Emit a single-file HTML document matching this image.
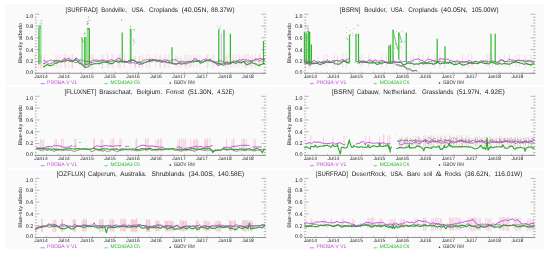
<!DOCTYPE html><html><head><meta charset="utf-8"><style>html,body{margin:0;padding:0;background:#fff;width:550px;height:257px;overflow:hidden}svg{display:block;will-change:transform;filter:blur(0.3px)}text{font-family:"Liberation Sans", sans-serif;text-rendering:geometricPrecision}</style></head><body>
<svg xmlns="http://www.w3.org/2000/svg" width="550" height="257" viewBox="0 0 550 257">
<rect x="5" y="4.1" width="539" height="80.9" fill="#fafafa"/>
<rect x="5" y="87.0" width="539" height="81.3" fill="#fafafa"/>
<rect x="5" y="169.4" width="539" height="80.2" fill="#fafafa"/>
<g transform="translate(0.0,0.0)">
<path d="M35.23 54.17V68.04M38.68 55.65V68.45M40.79 55.43V68.64M41.27 54.62V68.62M44.39 54.54V68.26M56.13 55.2V67.64M58.01 54.86V68.25M60.7 54.36V68.7M64.9 53.9V67.68M65.69 54.74V68.67M68.79 54.74V67.84M71.94 54.31V68.6M72.6 54.42V67.75M85.16 55.03V69.69M88.98 55.8V69.62M91.27 55.01V69.38M92.87 54.38V69.19M101.97 54.94V68.34M102.98 55.12V68.45M107.15 53.7V67.62M108.19 55.16V67.98M111.8 53.75V67.16M113.04 54.06V68.31M117.41 54.69V67.5M119.74 54.23V67.7M120.06 53.9V68.53M124.57 53.7V68.1M130.61 54.56V67.58M134.58 56.29V68.52M135.41 55.53V67.85M139.23 55.95V67.92M140.01 55.75V67.95M142.76 54.88V67.87M146.81 54.67V67.67M149.67 54.58V68.32M155.85 54.26V67.03M159.99 55.11V67.5M160.18 55.09V68.35M164.24 55.23V67.61M166.05 54.11V67.67M168.97 53.78V68.2M175.91 55.31V67.86M177.77 55.89V67.76M180.79 55.65V68.17M184.93 54.58V68.47M186.9 55.01V68.63M189.22 55.15V67.38M191.22 55.52V67.18M193.77 54.36V67.17M196.92 54.72V66.82M199.91 54.9V67.15M207.12 54.85V68.14M207.97 54.43V67M212.1 54.65V68.69M214.06 54.13V67.91M225.76 55.09V68.67M227.96 53.52V68.44M230.82 54.36V67.89M233.34 54.64V67.28M236.08 53.55V67.53M239.18 54.44V67.08M242.03 54.81V67.02M244.73 54.4V68.35M246.23 53.76V67.85M248.09 53.87V66.61M250.77 54.61V67.68M252.45 54.8V67.81M255.56 53.8V67.83M259.19 53.83V67.74M260.24 53.77V66.86" stroke="#f2b8d0" stroke-width="0.65" fill="none" opacity="0.75"/>
<path d="M53.22 54.99h0.6M159.66 61.1h0.6M157.19 62.09h0.6M43.76 61.86h0.6M190.5 63.57h0.6M72.31 60.85h0.6M71.35 60.1h0.6M68.98 58.14h0.6M99.28 60.65h0.6M46.53 61.75h0.6M79.92 58.8h0.6M139.29 62.37h0.6M254.5 59.13h0.6M189.79 65.97h0.6M250.97 59.53h0.6M63.05 58.09h0.6M57.43 63.45h0.6M95.62 60.77h0.6M102.03 64.8h0.6M205.68 61.97h0.6M174.89 58.52h0.6M134.35 59.35h0.6M71.8 60.43h0.6M40.54 62.37h0.6M85.57 61.59h0.6M142.08 60.05h0.6M108.51 60.91h0.6M225.21 58.51h0.6M57.3 63.18h0.6M208.52 64.11h0.6M66.27 60.42h0.6M113.68 62.85h0.6M54.79 59.32h0.6M178.51 51.51h0.6M61.92 62.33h0.6M57.09 60.38h0.6M177.15 58.49h0.6M220.9 61.54h0.6M245.61 58.89h0.6M194.67 59.03h0.6" stroke="#777" stroke-width="0.5" fill="none" opacity="0.7"/>
<path d="M40.1 64.22V25.8M41 63.09V29.19M81.8 65.35V37.1M82.6 65.35V39.92M85.6 65.35V37.1M86 65.35V37.1M87.2 65.35V28.62M88.2 65.35V28.62M130.2 62.52V28.91" stroke="#2cb82c" stroke-width="1.2" fill="none" opacity="0.45"/>
<path d="M38.9 27.49 L40.1 25.8 L41 29.19M81.8 37.1 L83.2 42.75" stroke="#2cb82c" stroke-width="1.1" fill="none" opacity="0.6"/>
<path d="M38.9 64.22V27.49M84.8 65.35V37.1M89.4 64.22V28.62M122.2 62.52V32.58M130.9 62.52V28.91M172 64.22V47.27M218.8 64.22V29.19M224 64.22V29.76M230.4 64.22V33.71M263.5 64.22V41.05M87.2 28.62H89.4M130.2 28.91H130.9" stroke="#2cb82c" stroke-width="1.2" fill="none"/>
<path d="M221.4 62.52V33.14" stroke="#c24ed8" stroke-width="0.9" fill="none" opacity="0.45"/>
<path d="M39.55 25.24h0.7M41.53 20.33h0.7M41.49 22.84h0.7M41.09 25.25h0.7M39.85 23.45h0.7M40.66 21.08h0.7M88.05 23.67h0.7M88.3 16.63h0.7M87.91 18.31h0.7M86.58 24.18h0.7M88.25 21.13h0.7M87.23 24h0.7M89.53 20.76h0.7M88.33 28.34h0.7M121.34 20.48h0.7M121.4 19.6h0.7M130 26.52h0.7M130.06 26.21h0.7M132.96 44.22h0.7M133 40.2h0.7M133.65 29.65h0.7M133.25 39.98h0.7M133.97 30.82h0.7M133.06 29.63h0.7M133.98 42.06h0.7M133.72 41.68h0.7M86.49 21.61h0.7M87.04 21.74h0.7M87.08 23.99h0.7M87.56 23.45h0.7M84.83 33.06h0.7M83.61 34.98h0.7M83.97 33.84h0.7M84.25 33.15h0.7M75.04 58.76h0.7M217.21 26.38h0.7M220.25 26.06h0.7M219.66 28.65h0.7M218.77 27.7h0.7" stroke="#666" stroke-width="0.6" fill="none"/>
<path d="M43 65.97 L44.1 66.7 L45.2 65.9 L46.3 65.04 L47.4 64.51 L48.5 65.44 L49.6 65.55 L50 65.18 L50.7 65.72 L51.8 65.34 L52.9 65.03 L54 63.97 L55.1 62.86 L56.2 63.44 L57.3 62.55 L58.4 62.27 L59.5 61.78 L60.6 61.47 L61.7 62.05 L62.8 61.29 L63 60.97 L63.9 60.56 L65 60.01 L66.1 60.24 L67.2 60.31 L68.3 60.24 L69 60.35 L69.4 60.6 L70.5 61.52 L71.6 61.03 L72.5 61.34 L72.7 61.58 L73.8 60.94 L74.9 59.71 L76 60.49 L76 59.67 L77.1 60.47 L78.2 61.94 L79.3 63.36 L80 63.91 L80.4 63.54 L81.5 64.1 L82.6 65.12 L83.7 66.32 L84.8 67.49 L85 67.04 L85.9 67.44 L87 67.07 L88.1 66.7 L89.2 65.81 L90 65.07 L90.3 64.52 L91.4 64.36 L92.5 64.29 L93.6 64.06 L94 63.79 L94.7 63.64 L95.8 63.56 L96.9 63.76 L98 63.56 L98 63.08 L99.1 64.03 L100.2 62.92 L101.3 63.22 L102.4 61.93 L103.5 62.16 L104.6 62.35 L105 62.12 L105.7 61.85 L106.8 62.64 L107.9 62.28 L109 62.96 L110.1 64.02 L111.2 63.49 L112.3 63.46 L113.4 63.09 L114.5 61.52 L115.6 61.26 L116.7 61.67 L117.8 61.74 L118.9 62.6 L120 61.78 L120 61.68 L121.1 60.75 L122.2 61.5 L123.3 61.28 L124.4 62.14 L125.5 61.97 L126.6 62.56 L127.7 61.86 L128.8 60.79 L129.9 61.17 L130 60.43 L131 59.72 L132.1 59.99 L133.2 60.08 L134.3 60.8 L135.4 61.09 L136.5 62 L137.6 62.61 L138.7 62.98 L139.8 62.77 L140 62.74 L140.9 62.65 L142 63.46 L143.1 63.28 L144.2 62.85 L145.3 62.49 L146.4 62.11 L147.5 61.72 L148.6 61.79 L149.7 60.45 L150 61.59 L150.8 60.95 L151.9 60.82 L153 60.89 L154.1 60.49 L155.2 60.03 L156.3 60.19 L157.4 60.02 L158.5 60.21 L159.6 60.53 L160 61.05 L160.7 61.49 L161.8 62.31 L162.9 61.43 L164 61.61 L165.1 61.77 L166.2 61.99 L167.3 62.76 L168.4 62.49 L169.5 62.97 L170 62.79 L170.6 62.93 L171.7 62.76 L172.8 63.03 L173.9 64.01 L175 63.73 L176.1 64.01 L177.2 63.87 L178.3 63.24 L179.4 63.71 L180 63.49 L180.5 63.89 L181.6 64 L182.7 64.01 L183.8 63.07 L184.9 63.38 L186 63.05 L187.1 63.05 L188.2 62.75 L189.3 62.32 L190 62.54 L190.4 62.19 L191.5 61.83 L192.6 62 L193.7 61.89 L194.8 61.22 L195.9 60.75 L197 61.38 L198.1 61.23 L199.2 61.64 L200 62.61 L200.3 63.14 L201.4 62.95 L202.5 62.55 L203.6 61.86 L204.7 60.99 L205.8 61.08 L206.9 60.43 L208 60.58 L209.1 60.09 L210 59.04 L210.2 59.35 L211.3 60.88 L212.4 61.72 L213.5 62.01 L214.6 62.66 L215.7 62.5 L216.8 63.34 L217.9 63.47 L218 64.28 L219 63.82 L220.1 63.36 L221.2 64.42 L222.3 64.65 L223.4 65.3 L224.5 64.98 L225 64.31 L225.6 62.9 L226.7 63.08 L227.8 62.84 L228.9 64.03 L230 63.69 L231.1 63.36 L232.2 62.3 L233.3 61.89 L234.4 62.64 L235.5 63.2 L236.6 63.23 L237.7 61.95 L238.8 62.16 L239.9 62.66 L240 62.68 L241 63.08 L242.1 62.16 L243.2 61.21 L244.3 62.05 L245.4 63.29 L246.5 64.71 L247.6 64.6 L248.7 63.89 L249.8 63.99 L250 63.03 L250.9 62.87 L252 62.79 L253.1 63.08 L254.2 63.42 L255.3 63.9 L256.4 64.12 L257.5 65.08 L258 65.42 L258.6 65.44 L259.7 64.74 L260.8 64.87 L261.9 64.23 L263 63.51 L264.1 63.59 L265 63.44" stroke="#28a828" stroke-width="1.1" fill="none" stroke-linejoin="round"/>
<path d="M43 63.31 L44.1 63.73 L45.2 63.15 L46.3 62.45 L47.4 62.96 L48.5 63.64 L49.6 64.18 L50 63.72 L50.7 63.23 L51.8 63.2 L52.9 62.63 L54 61.16 L55 61.15 L55.1 60.86 L56.2 60.68 L57.3 60.29 L58.4 60.36 L59.5 60.61 L60.6 61.5 L61.7 60.73 L62.8 60.58 L63 59.52 L63.9 58.5 L65 58.73 L66.1 59.24 L67.2 58.94 L68.3 58.4 L69 58.63 L69.4 58.26 L70.5 59.76 L71.3 60.89 L71.6 61.01 L72.7 60.86 L73.8 60.1 L74.9 58.99 L76 57.79 L76 58.24 L77.1 58.26 L78.2 59.7 L79.3 59.83 L80 61.69 L80.4 62.76 L81.5 64.04 L82.6 64.42 L83.7 65.13 L84 65.6 L84.8 64.75 L85.9 64.84 L87 64.56 L88 63.9 L88.1 64.28 L89.2 63.33 L90.3 63.01 L91.4 61.53 L92 60.58 L92.5 60.05 L93.6 60.08 L94.7 60.29 L95.8 60.03 L96.9 60.09 L98 60.33 L99.1 61.01 L100 60.95 L100.2 60.9 L101.3 59.89 L102.4 60.08 L103.5 60.69 L104.6 61.1 L105.7 61.12 L106.8 60.75 L107.9 60.98 L109 61.04 L110.1 59.91 L111.2 59.77 L112.3 60.15 L113.4 60.26 L114.5 60.6 L115 60.49 L115.6 60.14 L116.7 59.26 L117.8 58.86 L118.9 58.01 L120 58.98 L120 58.87 L121.1 59.53 L122.2 60.64 L123.3 61.57 L124.4 60.94 L125 62.41 L125.5 61.26 L126.6 61.85 L127.7 62.21 L128.8 63.12 L129.9 63.16 L131 62.62 L132.1 63.02 L133.2 62.5 L133.6 62.77 L134.3 62.78 L135.4 63.84 L136.5 63.45 L137.6 63.56 L138.7 64.04 L139.8 64.78 L140.9 63.88 L142 64.55 L143 63.55 L143.1 62.86 L144.2 62.14 L145.3 62.56 L146.4 61.77 L147.5 61.48 L148.6 60.42 L149.7 59.16 L150 59.85 L150.8 58.66 L151.9 59.76 L153 59.01 L154.1 59.98 L155.2 59.95 L156 61.24 L156.3 61.61 L157.4 61.51 L158.5 61.49 L159.6 61.39 L160.7 61.67 L161 61.56 L161.8 60.98 L162.9 61.38 L164 61.81 L165.1 61.96 L166.2 61.38 L167.3 60.29 L168 60.53 L168.4 60.78 L169.5 61.58 L170.6 62.7 L171.7 63.42 L172.8 63.49 L173 63.82 L173.9 63.94 L175 63.72 L176.1 64.12 L177.2 63.79 L178.3 63.14 L179.4 62.35 L180.5 62.19 L181.6 62.8 L182.7 62.81 L183.8 63.5 L184.9 63.51 L186 64.5 L187.1 63.29 L188 63.02 L188.2 62.3 L189.3 62.05 L190.4 61.68 L191.5 61.47 L192.6 60.73 L193.7 59.12 L194 58.5 L194.8 58.83 L195.9 58.92 L197 59.46 L198.1 60.82 L199.2 60.63 L200.3 61.46 L201.4 61.11 L202.5 59.93 L203.6 59.35 L204.7 59.66 L205.8 58.6 L206.9 59.89 L208 60.54 L208 60.52 L209.1 60.86 L210.2 60.9 L211.3 61.08 L212.4 61.36 L213.5 61.81 L214.6 62.33 L215.7 63.58 L216 64.31 L216.8 64.66 L217.9 65.75 L219 65.57 L219 64.61 L220.1 64.81 L221.2 64.03 L222.3 63.26 L223.4 63.17 L224.5 63.04 L225 63.32 L225.6 63.89 L226.7 64.14 L227.8 64.15 L228.9 63.73 L230 62.55 L231.1 62.26 L232.2 62.59 L233.3 62.37 L234.4 62.64 L235 61.61 L235.5 61.63 L236.6 60.83 L237.7 60.47 L238.8 60.14 L239.9 59.51 L241 60.52 L242.1 59.8 L243.2 58.98 L243.7 59.52 L244.3 60.04 L245.4 59.78 L246.5 60.11 L247.6 60.28 L248.7 59.82 L249.8 61.33 L250 61.87 L250.9 61.17 L252 61.24 L253.1 61.07 L254.2 60.7 L255.3 59.93 L256.4 60.06 L257.5 59.25 L258.6 59.03 L259.6 58.28 L259.7 59 L260.8 58.46 L261.9 59.04 L263 59.3 L264.1 59.66 L265 59.25" stroke="#c24ed8" stroke-width="1.0" fill="none" stroke-linejoin="round"/>
<path d="M43 60.74 L44.1 60.78 L45.2 61.09 L46.3 61.21 L47.4 60.98 L48.5 61.22 L49.6 60.46 L50.7 60.12 L51.8 60.37 L52.9 60.45 L54 60.9 L55.1 60.59 L56.2 60.84 L57.3 61.27 L58.4 61.41 L59.5 61.04 L60.6 61.34 L61.7 61.55 L62.8 61.35 L63.9 61.82 L65 61.82 L66.1 60.91 L67.2 60.84 L68.3 60.13 L69.4 60.72 L70.5 60.35 L71.6 60.28 L72.7 61.27 L73.8 61.5 L74.9 62.59 L76 62.63 L77.1 62.5 L78.2 61.58 L79.3 60.54 L80 59.87 L80.4 60.1 L81.5 59.85 L82.6 60.44 L83.7 60.74 L84.8 60.92 L85.9 61.94 L87 61.23 L88.1 61.6 L89.2 61.93 L90 61.77 L90.3 61.65 L91.4 62.64 L92.5 62.61 L93.6 62.18 L94.7 60.81 L95.8 61.45 L96.9 61.57 L98 61.29 L99.1 61.49 L100.2 61.17 L101.3 60.67 L102.4 60.91 L103.5 60.04 L104.6 60.23 L105.7 61.29 L106.8 61.61 L107.9 61.13 L109 61.88 L110.1 62.02 L111.2 61.71 L112.3 61.11 L113.4 60.75 L114.5 61.47 L115.6 61.13 L116.7 60.89 L117.8 60.42 L118.9 60.95 L120 61.29 L121.1 61.66 L122.2 62.55 L123.3 62.08 L124.4 61.44 L125.5 61.2 L126.6 61.6 L127.7 61.9 L128.8 60.58 L129.9 60.33 L131 60.46 L132.1 60.15 L133.2 60.43 L134.3 60.99 L135.4 61.36 L136.5 62.11 L137.6 62.13 L138.7 61.76 L139.8 61.62 L140.9 62.23 L142 61.2 L143.1 60.62 L144.2 59.91 L145.3 60.34 L146.4 59.62 L147.5 59.74 L148.6 59.99 L149.7 60.81 L150 60.27 L150.8 61.21 L151.9 60.04 L153 59.3 L154.1 59.74 L155.2 60.31 L156.3 60.65 L157.4 60.51 L158.5 61 L159.6 60.17 L160.7 60.3 L161.8 60.22 L162.9 60.48 L164 59.86 L165.1 59.81 L166.2 60.51 L167.3 60.11 L168.4 61.08 L169.5 60.93 L170.6 60.73 L171.7 60.18 L172.8 59.52 L173.9 59.9 L175 59.93 L176.1 60.02 L177.2 60.82 L178.3 61.4 L179.4 61.56 L180.5 61.46 L181.6 60.99 L182.7 61.37 L183.8 61.4 L184.9 61.88 L186 61.82 L187.1 61.23 L188.2 61.72 L189.3 61.07 L190.4 61.57 L191.5 61.31 L192.6 60.83 L193.7 60.92 L194.8 61.33 L195.9 61.43 L197 60.84 L198.1 60.43 L199.2 60.46 L200 61.12 L200.3 61.54 L201.4 61.5 L202.5 61.48 L203.6 61.43 L204.7 60.74 L205.8 60.17 L206.9 60.4 L208 60.36 L209.1 60.72 L210.2 60.39 L211.3 61.49 L212.4 61.44 L213.5 61.15 L214.6 61.63 L215.7 61.83 L216.8 61.88 L217.9 61.56 L219 60.95 L220 60.45 L220.1 60.74 L221.2 60.86 L222.3 61.55 L223.4 61.6 L224.5 62.63 L225.6 62.16 L226.7 61.88 L227.8 61.65 L228.9 62.98 L230 62.45 L231.1 62.12 L232.2 61.71 L233.3 60.96 L234.4 61.1 L235.5 61.29 L236.6 61.42 L237.7 61.18 L238.8 61.28 L239.9 61.38 L241 62.38 L242.1 62.61 L243.2 62.19 L244.3 61.7 L245.4 61.44 L246.5 61.59 L247.6 62.39 L248.7 61.64 L249.8 60.99 L250.9 60.83 L252 60.72 L253.1 60.51 L254.2 59.41 L255.3 59.2 L256.4 58.7 L257.5 59.43 L258.6 61.24 L259.7 60.86 L260.8 60.3 L261.9 59.29 L263 59.27 L264.1 59.61 L265 60.41" stroke="#666" stroke-width="0.7" fill="none" stroke-linejoin="round"/>
<line x1="34.9" y1="73.3" x2="265.5" y2="73.3" stroke="#888" stroke-width="0.9"/>
<path d="M35.0 73.3v-1.6M46.5 73.3v-1.6M58.0 73.3v-1.6M69.5 73.3v-1.6M81.0 73.3v-1.6M92.5 73.3v-1.6M104.0 73.3v-1.6M115.5 73.3v-1.6M127.0 73.3v-1.6M138.5 73.3v-1.6M150.0 73.3v-1.6M161.5 73.3v-1.6M173.0 73.3v-1.6M184.5 73.3v-1.6M196.0 73.3v-1.6M207.5 73.3v-1.6M219.0 73.3v-1.6M230.5 73.3v-1.6M242.0 73.3v-1.6M253.5 73.3v-1.6M265.0 73.3v-1.6" stroke="#999" stroke-width="0.5" fill="none"/>
<path d="M34.9 73.30h4.5M266.2 73.30h-4.9M34.9 70.34h2.0M266.2 70.34h-2.4M34.9 67.39h2.0M266.2 67.39h-2.4M34.9 64.44h2.0M266.2 64.44h-2.4M34.9 61.48h4.5M266.2 61.48h-4.9M34.9 58.52h2.0M266.2 58.52h-2.4M34.9 55.57h2.0M266.2 55.57h-2.4M34.9 52.61h2.0M266.2 52.61h-2.4M34.9 49.66h4.5M266.2 49.66h-4.9M34.9 46.70h2.0M266.2 46.70h-2.4M34.9 43.75h2.0M266.2 43.75h-2.4M34.9 40.79h2.0M266.2 40.79h-2.4M34.9 37.84h4.5M266.2 37.84h-4.9M34.9 34.88h2.0M266.2 34.88h-2.4M34.9 31.93h2.0M266.2 31.93h-2.4M34.9 28.97h2.0M266.2 28.97h-2.4M34.9 26.02h4.5M266.2 26.02h-4.9M34.9 23.06h2.0M266.2 23.06h-2.4M34.9 20.11h2.0M266.2 20.11h-2.4M34.9 17.15h2.0M266.2 17.15h-2.4M34.9 14.20h4.5M266.2 14.20h-4.9" stroke="#8a8a8a" stroke-width="0.6" fill="none"/>
<text x="33.2" y="73.70" font-size="5.4" text-anchor="end" fill="#1a1a1a">0.0</text>
<text x="33.2" y="63.40" font-size="5.4" text-anchor="end" fill="#1a1a1a">0.2</text>
<text x="33.2" y="51.90" font-size="5.4" text-anchor="end" fill="#1a1a1a">0.4</text>
<text x="33.2" y="39.80" font-size="5.4" text-anchor="end" fill="#1a1a1a">0.6</text>
<text x="33.2" y="28.30" font-size="5.4" text-anchor="end" fill="#1a1a1a">0.8</text>
<text x="33.2" y="17.50" font-size="5.4" text-anchor="end" fill="#1a1a1a">1.0</text>
<text transform="translate(21.6,43.2) rotate(-90)" font-size="5.3" text-anchor="middle" fill="#2a2a2a" textLength="40.6" lengthAdjust="spacingAndGlyphs">Blue-sky albedo</text>
<text x="41.0" y="77.75" font-size="4.9" text-anchor="middle" fill="#222">Jan14</text>
<text x="64.0" y="77.75" font-size="4.9" text-anchor="middle" fill="#222">Jul14</text>
<text x="87.0" y="77.75" font-size="4.9" text-anchor="middle" fill="#222">Jan15</text>
<text x="110.0" y="77.75" font-size="4.9" text-anchor="middle" fill="#222">Jul15</text>
<text x="133.0" y="77.75" font-size="4.9" text-anchor="middle" fill="#222">Jan16</text>
<text x="156.0" y="77.75" font-size="4.9" text-anchor="middle" fill="#222">Jul16</text>
<text x="179.0" y="77.75" font-size="4.9" text-anchor="middle" fill="#222">Jan17</text>
<text x="202.0" y="77.75" font-size="4.9" text-anchor="middle" fill="#222">Jul17</text>
<text x="225.0" y="77.75" font-size="4.9" text-anchor="middle" fill="#222">Jan18</text>
<text x="248.0" y="77.75" font-size="4.9" text-anchor="middle" fill="#222">Jul18</text>
<text x="65.6" y="12.25" font-size="6.7" fill="#222" textLength="32.0" lengthAdjust="spacingAndGlyphs">[SURFRAD]</text>
<text x="101.2" y="12.25" font-size="6.7" fill="#222" textLength="25.6" lengthAdjust="spacingAndGlyphs">Bondville,</text>
<text x="131.8" y="12.25" font-size="6.7" fill="#222" textLength="13.0" lengthAdjust="spacingAndGlyphs">USA.</text>
<text x="149.0" y="12.25" font-size="6.7" fill="#222" textLength="28.9" lengthAdjust="spacingAndGlyphs">Croplands</text>
<text x="181.6" y="12.25" font-size="6.7" fill="#222" textLength="26.8" lengthAdjust="spacingAndGlyphs">(40.05N,</text>
<text x="211.1" y="12.25" font-size="6.7" fill="#222" textLength="23.4" lengthAdjust="spacingAndGlyphs">88.37W)</text>
<path d="M40.7 83.6h4" stroke="#c24ed8" stroke-width="0.7"/>
<text x="47.1" y="83.6" font-size="5.2" fill="#c24ed8" textLength="30" lengthAdjust="spacingAndGlyphs">PROBA-V V1</text>
<path d="M104.5 83.6h3" stroke="#2cb82c" stroke-width="0.7"/>
<text x="110.5" y="83.6" font-size="5.2" fill="#1fb81f" textLength="29.5" lengthAdjust="spacingAndGlyphs">MCD43A3 C6</text>
<circle cx="170.2" cy="83.0" r="0.8" fill="#333"/>
<text x="173.7" y="83.7" font-size="5.2" fill="#333" textLength="21" lengthAdjust="spacingAndGlyphs">GBOV RM</text>
</g>
<g transform="translate(269.3,0.0)">
<path d="M36.31 55.37V68.95M40.46 55.23V69.07M48.75 55.86V67.01M54.63 54.76V66.55M57.73 54.52V66.96M64.85 53.55V68.15M68.26 55.08V67.53M73.3 53.68V68.29M76.93 53.61V67.58M90.78 55.69V66.66M92.81 54.26V67.63M99.4 54.7V67.17M112.58 54.26V67.93M117.19 53.71V67.55M124.15 54.51V67.68M141.36 54.91V66.82M144.4 55.7V67.63M149.83 54.21V67.85M153.54 54.09V67.35M159.06 54.9V66.48M165.86 54.82V68.39M170.56 55.15V68.93M175.5 54.46V68.19M193.1 54.44V68.62M198.75 54.32V68.03M202.53 53.56V67.33M217.76 54.41V66.64M220.18 53.64V67.84M223.05 54.92V66.57M230.31 55.19V66.52M234.93 54.5V66.92M240.22 54.48V67.35M246.7 55.05V66.83M249.72 54.36V67.16M255.9 54.74V68.55M261.83 55.21V67.18" stroke="#f2b8d0" stroke-width="0.65" fill="none" opacity="0.75"/>
<path d="M164.93 61.55h0.6M50.66 63.22h0.6M140.59 62.96h0.6M242.86 65.83h0.6M217.77 60.71h0.6M259.65 55.52h0.6M55.72 60.14h0.6M178.15 60.39h0.6M138.27 58.22h0.6M224.7 62.15h0.6M217.47 61.77h0.6M259.16 61.94h0.6M238.14 58.31h0.6M199.42 62.55h0.6M161.65 61.52h0.6M60.16 60.4h0.6M243.67 62.91h0.6M82.95 59.7h0.6M142.62 59.27h0.6M62.94 58.39h0.6M252.16 55.4h0.6M182.74 57.17h0.6M195.69 59.05h0.6M143.62 61.64h0.6M179.46 61.16h0.6M240.13 58.15h0.6M71.08 60.51h0.6M166.26 62.54h0.6M198.71 66.26h0.6M258.75 60.94h0.6M95.42 57.59h0.6M103.65 59.64h0.6M253.94 59.39h0.6M154.61 62.76h0.6M148.94 58.83h0.6M204.75 59.92h0.6M61.59 57.05h0.6M51.05 63.38h0.6M256.49 59.98h0.6M216.74 55.96h0.6" stroke="#777" stroke-width="0.5" fill="none" opacity="0.7"/>
<path d="M36.3 63.09V32.58" stroke="#2cb82c" stroke-width="1.2" fill="none" opacity="0.45"/>
<path d="M123.7 29.76 L125.2 37.1 L128.6 49.53M129.5 32.58 L130.3 34.84 L132.8 42.75M37.5 33.14 L38.5 30.89 L39.4 30.89" stroke="#2cb82c" stroke-width="1.1" fill="none" opacity="0.6"/>
<path d="M35.1 63.09V32.02M37.5 63.09V33.14M39.4 64.22V30.89M40.4 64.22V32.02M42.1 64.22V44.45M80.2 62.52V34.84M86.7 62.52V33.71M89.2 62.52V33.71M119.5 62.52V45.58M121.2 62.52V44.45M123.7 62.52V29.76M129.5 59.7V32.58M137 62.52V32.58M167.9 62.52V38.8M175.7 62.52V46.14M221.7 62.52V33.71M225.9 62.52V33.71" stroke="#2cb82c" stroke-width="1.2" fill="none"/>
<path d="M38.7 28.64h0.7M38.06 28.84h0.7M35.95 25.69h0.7M35.84 25.97h0.7M36.64 27.29h0.7M38.64 28.81h0.7M81.02 34.51h0.7M76.86 32.7h0.7M76.72 27.74h0.7M83.22 35.61h0.7M88.6 34.66h0.7M84.07 28.74h0.7M77.98 39.75h0.7M87.39 25.33h0.7M76.55 37.58h0.7M80.49 30.81h0.7M88.83 25.23h0.7M88.82 36.18h0.7M82.98 33.28h0.7M77.47 38.93h0.7M126.19 43.73h0.7M125.14 48.07h0.7M124.58 38.2h0.7M130.41 46.13h0.7M130.84 42.35h0.7M132.57 31.73h0.7M128.59 37.74h0.7M126.85 31.58h0.7M132.03 47.91h0.7M127.34 47.9h0.7M126.33 44.81h0.7M134.7 41.67h0.7" stroke="#666" stroke-width="0.6" fill="none"/>
<path d="M35 62.1 L36.1 63.05 L37.2 63.43 L38.3 63.8 L39.4 62.56 L40.5 62.03 L41.6 62.77 L42.5 63.15 L42.7 64.07 L43.8 63.28 L44.9 63.64 L46 63.55 L47.1 63.56 L48.2 63.4 L49.3 63.83 L50 64.14 L50.4 64.47 L51.5 64.7 L52.6 63.83 L53.7 62.86 L54.8 63.42 L55.9 62.22 L57 61.71 L58.1 62.18 L59.2 62.24 L60 62.76 L60.3 62.03 L61.4 62.43 L62.5 62.42 L63.6 62.37 L64.7 62.95 L65.8 63.73 L66.9 63.94 L68 63.81 L69.1 64.18 L70 64.06 L70.2 64.22 L71.3 63.33 L72.4 62.03 L73.5 61.63 L74.6 60.51 L75.7 61.56 L76.8 61.98 L77.9 62.8 L79 62.49 L80 63.67M88 61.41 L89.1 61.86 L90.2 62.69 L91.3 61.7 L92.4 61.99 L93.5 61.17 L94.6 61.06 L95.7 61.57 L96.8 62.11 L97.9 62.4 L99 62.81 L100 63.01 L100.1 63.19 L101.2 62.79 L102.3 62.86 L103.4 62.64 L104.5 62.99 L105.6 62.87 L106.7 63.76 L107.8 64.42 L108.9 64.28 L110 63.65 L110 62.7 L111.1 63.05 L112.2 63.82 L113.3 62.93 L114.4 62.75 L115.5 61.92 L116.6 62.52 L117.7 62.8 L118.8 63.21 L119.9 63.13 L121 63.5 L122.1 63.04 L123.2 63.02 L124 62.28 L124.3 62.21 L125.4 61.88 L126.5 61.97 L127.6 62.45 L128.7 62.51 L129.8 62.57 L130 62.56 L130.9 62.14 L132 62.74 L133.1 64.11 L134.2 64.48 L135.3 64.98 L136.4 64.04 L137.5 63.61 L138.6 63.02 L139.7 63.08 L140 62.94 L140.8 63.15 L141.9 63.15 L143 63.43 L144.1 64.02 L145.2 64.53 L146.3 63.89 L147.4 63.72 L148.5 64.12 L149.6 63.75 L150 63.93 L150.7 63.64 L151.8 63.12 L152.9 62.84 L154 63.89 L155.1 63.7 L156.2 62.86 L157.3 63.7 L158.4 63.09 L159.5 63.12 L160.6 63.5 L161.7 63.61 L162.8 63.22 L163.9 64.58 L165 64.01 L165 63.67 L166.1 63.15 L167.2 63.1 L168.3 61.77 L169.4 62.73 L170.5 63.73 L171.6 63.76 L172.7 63.31 L173.8 62.97 L174.9 63.4 L175 62.83 L176 62.82 L177.1 63.13 L178.2 62.81 L179.3 63.35 L180.4 61.83 L181.5 63.24 L182.6 63.57 L183.7 63.97 L184.8 64.79 L185 64.91 L185.9 64.15 L187 64.38 L188.1 63.97 L189.2 63.8 L190.3 62.77 L191.4 64.03 L192.5 64.73 L193.6 64.9 L194.7 65.22 L195.8 64.59 L196.9 64.28 L198 63.94 L199.1 63.25 L200 63.54 L200.2 63.01 L201.3 62.78 L202.4 63.46 L203.5 63.65 L204.6 63.43 L205.7 63.03 L206.8 63.53 L207.9 63.57 L209 63.68 L210.1 62.71 L211.2 62.24 L212.3 62.24 L213.4 62.94 L214.5 63.07 L215 63.7 L215.6 63.35 L216.7 63.31 L217.8 63.66 L218.9 63.83 L220 63.71 L221.1 62.52 L222.2 62.41 L223.3 62.81 L224.4 62.84 L225 62.54 L225.5 63.3 L226.6 64.19 L227.7 63.75 L228.8 64.25 L229.9 63.54 L231 63.35 L232.1 64.32 L233.2 63.97 L234.3 63.59 L235.4 63.32 L236.5 64.02 L237.6 63.92 L238.7 63.92 L239.8 64.39 L240 64.37 L240.9 63.69 L242 63.53 L243.1 62.72 L244.2 62.5 L245.3 62.57 L246.4 61.41 L247.5 62.38 L248.6 62.25 L249.7 62.38 L250 62.78 L250.8 63.2 L251.9 63.31 L253 63.42 L254.1 64.26 L255.2 64 L256.3 64 L257.4 63.54 L258 63.61 L258.5 64.38 L259.6 64.36 L260.7 64.34 L261.8 65.2 L262 64.2 L262.9 64.03 L264 64.14 L265 63.13" stroke="#28a828" stroke-width="1.1" fill="none" stroke-linejoin="round"/>
<path d="M35 60.7 L36.1 60.42 L37.2 61.23 L38 61.28 L38.3 62.81 L39.4 64.56 L40.5 66.03 L40.5 65.93 L41.6 64 L42.5 61.56 L42.7 61.65 L43.8 60.99 L44.9 60.23 L46 61.27 L47.1 61.55 L48.2 62 L49.3 62.38 L50 62.18 L50.4 62.27 L51.5 62.6 L52.6 61.89 L53.7 61.48 L54.8 61.09 L55.9 61.56 L57 61.17 L58 60.36 L58.1 59.77 L59.2 61.36 L60 62.26 L60.3 61.8 L61.4 62.94 L62.5 61.98 L63.6 62.23 L64.7 61.97 L65.8 61.08 L66.9 60.61 L68 60.38 L69.1 60.91 L70 61.01 L70.2 61.16 L71.3 60.24 L72.4 59.97 L73.5 59.83 L74.6 59.8 L75.7 60.74 L76 60.18 L76.8 60.34 L77.9 59.79 L78 59.24 L79 58.96 L80 59.09M88 61.46 L89.1 61.35 L90.2 60.51 L91.3 61.16 L92.4 61.25 L93.5 62.68 L94.6 61.76 L95.7 62.58 L96.8 61.48 L97.9 61.35 L99 60.61 L100 59.78 L100.1 59.94 L101.2 59.86 L102.3 60.93 L103.4 61.08 L104.5 61.04 L105.6 59.72 L106.7 60.71 L107.8 60.51 L108.9 61.66 L110 61.49 L110 61.19 L111.1 60.07 L112.2 60.68 L113.3 60.84 L114.4 60.77 L115 61.49 L115.5 61.49 L116.6 61.94 L117.7 62.69 L118.8 61.77 L119 61.99 L119.9 61.77 L121 62.13 L122.1 61.45 L123.2 61.42 L124 61.37 L124.3 61.33 L125.4 61.27 L126.5 62.32 L127.6 62.18 L128.7 61.9 L129.8 62.34 L130 61.25 L130.9 60.83 L132 61.24 L133.1 61.97 L134.2 61.39 L135.3 61.6 L136.4 61.33 L137.5 62.26 L138.6 61.87 L139.7 61.64 L140 61.92 L140.8 61.96 L141.9 61.22 L143 60.81 L144.1 60.23 L145.2 59.77 L146.3 59.41 L147.4 59.18 L148.5 59.03 L149.6 58.86 L150 59.22 L150.7 60.03 L151.8 60.22 L152.9 60.44 L154 61.13 L155.1 61.69 L156.2 61.46 L157.3 59.87 L158.4 59.13 L159.5 59.04 L160 59.59 L160.6 59.32 L161.7 59.82 L162.8 60.49 L163.9 60.36 L165 60.95 L166.1 60.43 L167.2 61.77 L168.3 61.24 L169.4 60.6 L170 59.9 L170.5 58.58 L171.6 58.99 L172.7 58.74 L173.8 59.14 L174.9 59.58 L176 60.1 L177.1 59.2 L178.2 59.17 L179.3 59.37 L180 60 L180.4 60.61 L181.5 60.14 L182.6 61.08 L183.7 61.3 L184.8 61.65 L185.9 61.4 L187 61.25 L188.1 60.63 L189.2 61.03 L190 61.54 L190.3 61.73 L191.4 61.33 L192.5 61.74 L193.6 62.27 L194.7 61.83 L195.8 61.8 L196.9 61.72 L198 61.46 L199.1 61.37 L200 60.11 L200.2 60.73 L201.3 61.1 L202.4 62.23 L203.5 62.67 L204.6 61.88 L205.7 61.43 L206.8 61.44 L207.9 61.48 L209 62.36 L210 61.85 L210.1 61.55 L211.2 60.91 L212.3 60.86 L213.4 61.37 L214.5 61.52 L215 62.03 L215.6 61.48 L216.7 60.49 L217.8 61.65 L218.9 61.99 L219 62.19M227 62.17 L228.1 62.28 L229.2 61.49 L230.3 61.36 L231.4 59.83 L232.5 60.61 L233.6 60.34 L234.7 61.16 L235 62.11 L235.8 61.82 L236.9 61.73 L238 60.9 L239.1 59.87 L240 59.59 L240.2 59.48 L241.3 59.68 L242.4 60.02 L243.5 60.11 L244.6 60.44 L245.7 61.02 L246.8 60.89 L247.9 60.59 L249 59.77 L250 60.58 L250.1 60.26 L251.2 60.67 L252.3 60.32 L253.4 60.55 L254.5 60.56 L255.6 61.24 L256.7 60.82 L257.8 61.3 L258 60.62 L258.9 61.39 L260 60.47 L261.1 60.8 L262.2 61.94 L263.3 62.24 L264.4 62.6 L265 61.87" stroke="#c24ed8" stroke-width="1.0" fill="none" stroke-linejoin="round"/>
<path d="M35 63.11 L36.1 62.65 L37.2 61.77 L38.3 61.93 L39.4 61.74 L40.5 62.29 L41.6 62.7 L42.7 63 L43.8 62.98 L44.9 62.58 L46 62.08 L47.1 62.41 L48.2 62.66 L49.3 61.78 L50.4 61.65 L51.5 62.44 L52.6 62.71 L53.7 62.46 L54.8 63.02 L55.9 62.68 L57 62.35 L58.1 62.04 L59.2 61.68 L60.3 61.31 L61.4 61.62 L62.5 61.21 L63.6 60.19 L64.7 60.84 L65.8 60.64 L66.9 60.52 L68 60.97 L69.1 60.83 L70.2 61.67 L71.3 61.87 L72.4 62.81 L73.5 61.36 L74.6 61.19 L75.7 61.7 L76.8 61.62 L77.9 62.04 L79 61.75 L80 61.21M88 63.35 L89.1 62.76 L90.2 63 L91.3 61.91 L92.4 62.16 L93.5 61.93 L94.6 62.66 L95.7 62.27 L96.8 62.67 L97.9 62.63 L99 62.34 L100.1 61.9 L101.2 60.71 L102.3 61.08 L103.4 61.69 L104.5 61.43 L105.6 62.59 L106.7 62.29 L107.8 62.55 L108.9 62.46 L110 62.24 L111.1 61.97 L112.2 62.02 L113.3 61.48 L114.4 62.03 L115.5 62.06 L116.6 62.53 L117.7 62.54 L118.8 62.73 L119.9 62.58 L121 63.36 L122.1 63.02 L123.2 63.42 L124 63.08M125 62.61 L126.1 63.83 L127.2 65.03 L128.3 65.62 L129.4 65.58 L130.5 66.14 L131.6 65.83 L132.7 65.28 L133.8 65.97 L134.9 66.24 L135 66.98 L136 67.27 L137.1 67.78 L138.2 68.11 L139.3 68.41 L140.4 68.29 L141.5 69.46 L142.6 70.86 L143.7 71.27 L144.8 70.83 L145.9 70.45 L147 71.03 L148 71.22M127 64.28 L128.1 64.75 L129.2 64.52 L130.3 64.92 L131.4 65.96 L132.5 66.71 L133.6 65.72 L134.7 66.73 L135.8 67.21 L136.9 68.09 L137 69.22 L138 69.7 L139.1 69.89 L140.2 69.51 L141.3 70.06 L142.4 70.42 L143.5 70.79 L144.6 70.83 L145.7 70.51 L146.8 70.32 L147.9 70.63 L148 70.61M150 61.39 L151.1 62.73 L152.2 63.37 L153.3 62.51 L154.4 62.28 L155.5 62.52 L156.6 62.65 L157.7 62.66 L158.8 62.37 L159.9 61.44 L161 62.03 L162.1 61.56 L163.2 60.85 L164.3 60.94 L165.4 61.79 L166.5 62.03 L167.6 62.15 L168.7 61.7 L169.8 61.56 L170.9 61.18 L172 61.96 L173.1 61.85 L174.2 61.6 L175.3 62.2 L176.4 62.12 L177.5 62.72 L178.6 62.02 L179.7 62.45 L180.8 62.15 L181.9 62.49 L183 62.27 L184.1 61.34 L185.2 61.99 L186.3 62.31 L187.4 61.83 L188.5 61.84 L189.6 62.38 L190.7 62.38 L191.8 61.99 L192.9 61.97 L194 61.89 L195.1 62.21 L196.2 62.37 L197.3 62.19 L198.4 62.56 L199.5 62.63 L200.6 62.59 L201.7 62.47 L202.8 62.26 L203.9 62.06 L205 61.55 L206.1 61.49 L207.2 61.55 L208.3 62.09 L209.4 62.84 L210.5 62.21 L211.6 62.47 L212.7 61.11 L213.8 61.17 L214.9 60.73 L216 61.22 L217.1 62.27 L218.2 61.8 L219.3 61.51 L220.4 61.57 L221.5 61.05 L222.6 61.3 L223.7 61.12 L224.8 61.63 L225.9 61.38 L227 61.94 L228.1 62.25 L229.2 62.48 L230.3 60.86 L231.4 59.71 L232.5 59.81 L233.6 60.14 L234.7 61.1 L235.8 61.5 L236.9 61.64 L238 61.8 L239.1 61.86 L240.2 61.2 L241.3 61.41 L242.4 61.56 L243.5 61.35 L244.6 61.71 L245.7 61.11 L246.8 60.93 L247.9 60.52 L249 60.17 L250.1 60.44 L251.2 60.99 L252.3 60.52 L253.4 61.16 L254.5 61.68 L255.6 62.34 L256.7 62 L257.8 61.19 L258.9 60.82 L260 61.05 L261.1 61.02 L262.2 61.35 L263.3 61.26 L264.4 60.93 L265 61.32" stroke="#666" stroke-width="0.7" fill="none" stroke-linejoin="round"/>
<line x1="34.9" y1="73.3" x2="265.5" y2="73.3" stroke="#888" stroke-width="0.9"/>
<path d="M35.0 73.3v-1.6M46.5 73.3v-1.6M58.0 73.3v-1.6M69.5 73.3v-1.6M81.0 73.3v-1.6M92.5 73.3v-1.6M104.0 73.3v-1.6M115.5 73.3v-1.6M127.0 73.3v-1.6M138.5 73.3v-1.6M150.0 73.3v-1.6M161.5 73.3v-1.6M173.0 73.3v-1.6M184.5 73.3v-1.6M196.0 73.3v-1.6M207.5 73.3v-1.6M219.0 73.3v-1.6M230.5 73.3v-1.6M242.0 73.3v-1.6M253.5 73.3v-1.6M265.0 73.3v-1.6" stroke="#999" stroke-width="0.5" fill="none"/>
<path d="M34.9 73.30h4.5M266.2 73.30h-4.9M34.9 70.34h2.0M266.2 70.34h-2.4M34.9 67.39h2.0M266.2 67.39h-2.4M34.9 64.44h2.0M266.2 64.44h-2.4M34.9 61.48h4.5M266.2 61.48h-4.9M34.9 58.52h2.0M266.2 58.52h-2.4M34.9 55.57h2.0M266.2 55.57h-2.4M34.9 52.61h2.0M266.2 52.61h-2.4M34.9 49.66h4.5M266.2 49.66h-4.9M34.9 46.70h2.0M266.2 46.70h-2.4M34.9 43.75h2.0M266.2 43.75h-2.4M34.9 40.79h2.0M266.2 40.79h-2.4M34.9 37.84h4.5M266.2 37.84h-4.9M34.9 34.88h2.0M266.2 34.88h-2.4M34.9 31.93h2.0M266.2 31.93h-2.4M34.9 28.97h2.0M266.2 28.97h-2.4M34.9 26.02h4.5M266.2 26.02h-4.9M34.9 23.06h2.0M266.2 23.06h-2.4M34.9 20.11h2.0M266.2 20.11h-2.4M34.9 17.15h2.0M266.2 17.15h-2.4M34.9 14.20h4.5M266.2 14.20h-4.9" stroke="#8a8a8a" stroke-width="0.6" fill="none"/>
<text x="33.2" y="73.70" font-size="5.4" text-anchor="end" fill="#1a1a1a">0.0</text>
<text x="33.2" y="63.40" font-size="5.4" text-anchor="end" fill="#1a1a1a">0.2</text>
<text x="33.2" y="51.90" font-size="5.4" text-anchor="end" fill="#1a1a1a">0.4</text>
<text x="33.2" y="39.80" font-size="5.4" text-anchor="end" fill="#1a1a1a">0.6</text>
<text x="33.2" y="28.30" font-size="5.4" text-anchor="end" fill="#1a1a1a">0.8</text>
<text x="33.2" y="17.50" font-size="5.4" text-anchor="end" fill="#1a1a1a">1.0</text>
<text transform="translate(21.6,43.2) rotate(-90)" font-size="5.3" text-anchor="middle" fill="#2a2a2a" textLength="40.6" lengthAdjust="spacingAndGlyphs">Blue-sky albedo</text>
<text x="41.0" y="77.75" font-size="4.9" text-anchor="middle" fill="#222">Jan14</text>
<text x="64.0" y="77.75" font-size="4.9" text-anchor="middle" fill="#222">Jul14</text>
<text x="87.0" y="77.75" font-size="4.9" text-anchor="middle" fill="#222">Jan15</text>
<text x="110.0" y="77.75" font-size="4.9" text-anchor="middle" fill="#222">Jul15</text>
<text x="133.0" y="77.75" font-size="4.9" text-anchor="middle" fill="#222">Jan16</text>
<text x="156.0" y="77.75" font-size="4.9" text-anchor="middle" fill="#222">Jul16</text>
<text x="179.0" y="77.75" font-size="4.9" text-anchor="middle" fill="#222">Jan17</text>
<text x="202.0" y="77.75" font-size="4.9" text-anchor="middle" fill="#222">Jul17</text>
<text x="225.0" y="77.75" font-size="4.9" text-anchor="middle" fill="#222">Jan18</text>
<text x="248.0" y="77.75" font-size="4.9" text-anchor="middle" fill="#222">Jul18</text>
<text x="70.5" y="12.25" font-size="6.7" fill="#222" textLength="20.6" lengthAdjust="spacingAndGlyphs">[BSRN]</text>
<text x="94.9" y="12.25" font-size="6.7" fill="#222" textLength="22.9" lengthAdjust="spacingAndGlyphs">Boulder,</text>
<text x="121.7" y="12.25" font-size="6.7" fill="#222" textLength="13.0" lengthAdjust="spacingAndGlyphs">USA.</text>
<text x="139.0" y="12.25" font-size="6.7" fill="#222" textLength="29.4" lengthAdjust="spacingAndGlyphs">Croplands</text>
<text x="171.7" y="12.25" font-size="6.7" fill="#222" textLength="26.7" lengthAdjust="spacingAndGlyphs">(40.05N,</text>
<text x="202.1" y="12.25" font-size="6.7" fill="#222" textLength="27.2" lengthAdjust="spacingAndGlyphs">105.00W)</text>
<path d="M40.7 83.6h4" stroke="#c24ed8" stroke-width="0.7"/>
<text x="47.1" y="83.6" font-size="5.2" fill="#c24ed8" textLength="30" lengthAdjust="spacingAndGlyphs">PROBA-V V1</text>
<path d="M104.5 83.6h3" stroke="#2cb82c" stroke-width="0.7"/>
<text x="110.5" y="83.6" font-size="5.2" fill="#1fb81f" textLength="29.5" lengthAdjust="spacingAndGlyphs">MCD43A3 C6</text>
<circle cx="170.2" cy="83.0" r="0.8" fill="#333"/>
<text x="173.7" y="83.7" font-size="5.2" fill="#333" textLength="21" lengthAdjust="spacingAndGlyphs">GBOV RM</text>
</g>
<g transform="translate(0.0,82.1)">
<path d="M40.69 56.97V69.44M42.04 57.82V69.79M43.61 57.85V69.81M54.93 57.04V69.15M56.49 57.23V68.59M61.5 56.45V69.19M63.2 56.8V69.85M74.62 56.66V69.1M75.89 56.58V68.74M93.8 56.07V68.94M94.47 57.46V68.81M100.81 56.91V68.61M101.95 57.38V69.72M102.75 57.73V68.68M110.91 56.84V69.73M112.89 57.11V68.43M113.57 55.75V69.08M119.79 57.74V68.5M121.12 56.62V68.89M135.85 57.96V68.96M136.63 56.13V69.26M145.49 56.28V68.68M146.86 56.57V69.72M148.27 56.14V68.67M155.92 57.87V68.9M157.94 56.86V69.68M158.55 57.26V68.9M160.73 55.88V69.03M161.3 57.3V69.55M178.05 57.96V69.18M179.66 56.11V69.56M181.39 56.57V69.53M183.04 55.93V69.07M184.17 58.04V69.4M185.72 56.02V69.65M190.85 57.28V68.92M193.53 57.66V68.89M194.02 57.82V69.7M195.77 57.51V69.15M196.37 56.55V68.75M197.69 57.59V69.23M204.5 57.24V69.4M205.4 57.65V68.95M206.72 55.93V68.65M207.59 56.68V69.82M209.88 56.36V68.49M226.47 56.51V68.9M231.84 57.86V69.61M233.31 56.17V69.54M233.95 56.2V68.83M241.96 56.87V69.02M243.31 56.49V69.22M244.43 56.47V68.84M246.19 57.16V69.56M253.98 56.75V69.45M255.25 57.42V69.84" stroke="#f2b8d0" stroke-width="0.8" fill="none" opacity="0.8"/>
<path d="M58 61.58h0.6M161.75 64.43h0.6M71.48 63.04h0.6M215.49 63.91h0.6M242.51 64.52h0.6M104.42 65.25h0.6M113.88 63.69h0.6M236.71 63.14h0.6M206.53 62.28h0.6M215.29 66.86h0.6M165.57 66.38h0.6M163.11 66.41h0.6M197.57 67.17h0.6M149.61 64.66h0.6M60.8 64.76h0.6M121.02 59.73h0.6M177.83 63.43h0.6M134.1 68.88h0.6M67.55 61.97h0.6M130.75 64.05h0.6M150.36 64.56h0.6M153.25 63.83h0.6M38.63 63h0.6M141.29 62.55h0.6M46.13 67.87h0.6M158.76 60h0.6M131.85 66.24h0.6M199.54 66.07h0.6M101.94 64.53h0.6M234.54 64.24h0.6M135.89 66.76h0.6M204.88 69.07h0.6M54.23 62.45h0.6M118.97 64.86h0.6M52.35 65.53h0.6M86.26 64.36h0.6M205.3 66h0.6M42.69 63.17h0.6M139.51 68.96h0.6M239.21 65.38h0.6" stroke="#777" stroke-width="0.5" fill="none" opacity="0.7"/>
<path d="M79.4 60.27h1.2" stroke="#2cb82c" stroke-width="1"/>
<path d="M36 66.74 L37.1 66.47 L38.2 66.26 L39.3 66.65 L40.4 66.36 L41.5 66.64 L42.6 66.75 L43.7 66.37 L44.8 66.66 L45.9 66.64 L47 66.91 L48.1 66.52 L49.2 66.83 L50.3 66.86 L51.4 67.06 L52.5 67.2 L53.6 66.99 L54.7 67.24 L55.8 67.26 L56.9 67.33 L58 66.95 L59.1 67.15 L60 67.51 L60.2 67.64 L61.3 67.94 L62.4 67.74 L63.5 67.34 L64.6 66.85 L65.7 66.79 L66.8 67 L67.9 66.67 L69 66.59 L70.1 66.55 L71.2 66.41 L72.3 66.72 L73.4 66.89 L74.5 66.86 L75.6 66.81 L76.7 66.4 L77.8 66.66 L78.9 66.31 L80 66.77 L80 66.77 L81.1 66.97 L82.2 66.82 L83.3 66.65 L84.4 66.75 L85.5 66.71 L86.6 67.32 L87.7 67.33 L88.8 67.26 L89.9 67.28 L91 66.81 L92.1 66.71 L93.2 66.42 L94.3 66.08 L95.4 66.68 L96.5 66.9 L97.6 67.29 L98.7 67.2 L99.8 67.47 L100 67.33 L100.9 66.87 L102 67.03 L103.1 66.78 L104.2 66.66 L105.3 66.83 L106.4 66.71 L107.5 66.82 L108.6 67.11 L109.7 67.18 L110.8 67.17 L111.9 67.15 L113 67.06 L114.1 67.24 L115.2 66.82 L116.3 66.56 L117.4 67.19 L118.5 67.92 L119.6 67.97 L120 67.78 L120.7 67.27 L121.8 67.03 L122.9 66.59 L124 66.95 L125.1 66.94 L126.2 67 L127.3 67.19 L128.4 67.13 L129.5 67 L130.6 66.93 L131.7 66.86 L132.8 66.98 L133.9 66.91 L135 66.85 L136.1 67.41 L137.2 67.41 L138.3 67.63 L139.4 67.77 L140 67.16 L140.5 66.98 L141.6 66.49 L142.7 66.79 L143.8 66.64 L144.9 67.08 L146 67.87 L147.1 67.12 L148.2 66.48 L149.3 66.31 L150.4 66 L151.5 66.98 L152.6 67.28 L153.7 67.93 L154.8 67.29 L155.9 67.39 L157 67.33 L158.1 67.08 L159.2 66.91 L160 67.62 L160.3 67.24 L161.4 67.26 L162.5 67.15 L163.6 66.97 L164.7 66.81 L165.8 67.27 L166.9 66.91 L168 66.91 L169.1 67.35 L170.2 66.88 L171.3 66.8 L172.4 67.02 L173.5 66.51 L174.6 66.81 L175.7 67.14 L176.8 67.07 L177.9 67.38 L179 67.21 L180 66.94 L180.1 67.05 L181.2 67.34 L182.3 67.61 L183.4 67.59 L184.5 66.98 L185.6 67.59 L186.7 67.3 L187.8 67.51 L188.9 67.12 L190 67.2 L191.1 66.45 L192.2 66.71 L193.3 66.57 L194.4 66.75 L195.5 66.68 L196.6 67.24 L197.7 67.03 L198.8 67.15 L199.9 67.06 L200 66.99 L201 66.99 L202.1 66.74 L203.2 66.78 L204.3 66.48 L205.4 66.26 L206.5 66.16 L207.6 66.03 L208.7 66.23 L209.8 66.19 L210 66.77 L210.9 67.71 L212 68.86 L212.7 70.48 L213.1 70.03 L214 68.45 L214.2 68.34 L215.3 67.8 L216.4 68.17 L217.5 67.88 L218.6 68 L219.7 68.21 L220.8 67.92 L221.9 67.05 L223 66.84 L224.1 67.17 L225.2 66.77 L226.3 67.48 L227.4 67.11 L228.5 67.08 L229.6 67.26 L230 67.03 L230.7 66.73 L231.8 67.31 L232.9 67.26 L234 67.66 L235.1 67.21 L236.2 67.27 L237.3 67.47 L238.4 67.41 L239.5 66.92 L240.6 66.97 L241.7 66.76 L242.8 67.07 L243.9 67.12 L245 67.49 L246.1 66.91 L247.2 67.01 L248.3 66.89 L249.4 66.37 L250 66.48 L250.5 67.16 L251.6 67.5 L252.7 67.62 L253.8 67.47 L254.9 67.1 L256 66.23 L257.1 66.45 L258.2 66.85 L259.3 67.22 L260 67.33 L260.4 67.54 L261.5 69.19 L262.3 70.74 L262.6 70.24 L263.7 67.89 L264 67.65 L264.8 67.08 L265 66.47" stroke="#28a828" stroke-width="1.1" fill="none" stroke-linejoin="round"/>
<path d="M37 65.94 L38.1 65.8 L39.2 65.82 L40.3 65.78 L41.4 65.77 L42.5 65.96 L43.6 65.33 L44.7 65.49 L45 65.4 L45.8 64.96 L46.9 64.78 L48 64.58 L49.1 64.43 L50 64.68 L50.2 64.64 L51.3 64.51 L52.4 64.46 L53.5 63.76 L54.6 63.75 L55 63.58 L55.7 63.42 L56.8 63.53 L57.9 63.57 L59 63.81 L60.1 64.02 L61 64.11 L61.2 64.06 L62.3 64.75 L62.5 65.07 L63.4 65.13 L64 65.35 L64.5 65.45 L65.5 64.66 L65.6 65.18 L66.7 65.29 L67.8 64.82 L68.9 64.89 L69 65.23 L70 64.44 L70 64.21 L71.1 63.76 L72.2 64.01 L72.5 64.25M74.3 64.07 L75.4 64.24 L76 63.35M92.3 66.47 L93.4 65.47 L94.5 64.99 L95.6 64.41 L96.7 63.95 L96.7 64.02 L97.8 63.68 L98.9 64.02 L100 64.63 L101.1 64.49 L102.2 64.4 L103.3 63.84 L104.4 63.54 L105.5 63.74 L106.6 63.5 L107.7 63.9 L108.8 63.74 L109.9 63.84 L110 63.77 L111 63.98 L112.1 64.2 L113.2 64.23 L114.3 64.05 L115.4 63.65 L116.5 63.82 L117.6 63.55 L118.7 63.58 L119.8 63.41 L120.9 63.53 L121 63.21M125.3 64.39 L126.4 64.31 L127.5 64.28 L128.6 64.21 L128.8 64.64M135.2 66.47 L136.3 65.87 L137.4 65.05 L138.5 64.5 L139.6 64.06 L140.7 63.58 L141.8 63.09 L142 63.11 L142.9 63.28 L144 63.28 L145.1 63.36 L146.2 63.81 L147.3 63.8 L148.4 64.1 L149.5 64.23 L150.3 63.8 L150.6 63.83 L151.7 63.86 L152.8 63.91 L153.9 64.16 L155 64.42 L156.1 64.55 L157.2 64.41 L158.3 64.98 L159.4 64.86 L160.5 64.98 L161.6 64.97 L162.7 65.33 L163.8 65.6 L164 65.61M176.8 65.17 L177.9 65.04 L179 64.93 L180.1 64.8 L180.3 65.03 L181.2 65.38 L182.3 66.13 L183.4 66.88 L184 67.51 L184.5 66.53 L185.6 66.46 L186.7 66.03 L187.8 66 L188.5 65.77 L188.9 65.35 L190 65.82 L191.1 65.34 L192.2 65.11 L193.3 64.87 L194.4 64.45 L195.5 64.25 L196.6 63.86 L196.7 64.63 L197.7 64.91 L198.8 64.61 L199.9 64.19 L201 64.48 L202.1 64.78 L203 65.6 L203.2 65.84 L204.3 65.15 L205.4 64.67 L206.5 64.32 L207.6 64.42 L208.7 64.51 L209.8 64.48 L210 64.3 L210.9 63.93 L212 63.53 L212.7 63.56M223 65.29 L224.1 65.09 L225.2 65.32 L226.3 65.37 L227.4 65.21 L228.5 65.33 L229 65.23 L229.6 65.31 L230.7 65.22 L231 65 L231.8 64.65 L232.9 64.35 L234 64.43 L235.1 64.09 L236.2 64.01 L237.3 63.99 L238.4 63.88 L239.5 63.5 L240.6 63.32 L241.7 63.17 L241.8 63.22 L242.8 63.3 L243.9 63.14 L245 63.09 L246.1 63.27 L247.2 63.21 L248.3 63.23 L249.4 63.49 L250 64.14M252.3 64.97 L253.4 64.83 L254.5 64.95 L255.6 64.91 L256.7 64.96 L257.8 64.84 L258.9 64.77 L260 65.05 L261.1 64.68 L261.7 64.7" stroke="#c24ed8" stroke-width="1.0" fill="none" stroke-linejoin="round"/>
<path d="M36 65.69 L37.1 66.68 L38.2 67.23 L39.3 67.63 L40.4 68.22 L41.5 67.87 L42.6 67.8 L43.7 67.23 L44.8 67.98 L45.9 67.53 L47 68.07 L48.1 68.59 L49.2 67.33 L50.3 68.46 L51.4 68.17 L52.5 68.45 L53.6 69.18 L54.7 69.38 L55.8 68.19 L56.9 68.07 L58 68.21 L59.1 67.97 L60.2 67.76 L61.3 67.19 L62.4 68 L63.5 67.96 L64.6 68.12 L65.7 68.15 L66.8 68.02 L67.9 67.82 L69 68.5 L70.1 67.71 L71.2 68.2 L72.3 68.62 L73.4 69.17 L74.5 69.49 L75.6 68.98 L76.7 68.37 L77.8 68 L78.9 67.91 L80 67.38 L81.1 67.05 L82.2 66.96 L83.3 67.1 L84.4 66.65 L85.5 67.09 L86.6 66.53 L87.7 66.91 L88.8 66.93 L89.9 68.14 L91 69.11 L92.1 69.63 L93.2 69.09 L94.3 68.12 L95.4 67.83 L96.5 67.64 L97.6 68.02 L98.7 68.71 L99.8 68.31 L100 68.53 L100.9 68.54 L102 68.69 L103.1 69.19 L104.2 68.3 L105.3 68.61 L106.4 69.13 L107.5 69.49 L108.6 69.16 L109.7 68.83 L110.8 68.13 L111.9 67.31 L113 67.45 L114.1 68.41 L115.2 68.67 L116.3 69.03 L117.4 69.49 L118.5 69.48 L119.6 68.4 L120.7 68.51 L121.8 67.98 L122.9 68.2 L124 67.89 L125.1 67.29 L126.2 67.9 L127.3 67.58 L128.4 67.92 L129.5 67.27 L130.6 67.6 L131.7 68.48 L132.8 67.45 L133.9 68.31 L135 68.18 L136.1 68.6 L137.2 68.69 L138.3 68.49 L139.4 68.47 L140.5 68.58 L141.6 67.98 L142.7 68.13 L143.8 67.39 L144.9 66.49 L146 66.73 L147.1 66.68 L148.2 67.4 L149.3 67.34 L150 67.37 L150.4 67.97 L151.5 68.21 L152.6 67.79 L153.7 67.86 L154.8 67.82 L155.9 68.09 L157 68.27 L158.1 67.44 L159.2 67.08 L160.3 66.98 L161.4 67.48 L162.5 68.29 L163.6 67.7 L164.7 67.56 L165.8 66.61 L166.9 67.05 L168 66.75 L169.1 67.26 L170.2 66.56 L171.3 66.21 L172.4 66.74 L173.5 67.77 L174.6 68.19 L175.7 68.27 L176.8 68.06 L177.9 68.12 L179 68.5 L180.1 68.77 L181.2 68.96 L182.3 68.64 L183.4 67.9 L184.5 68.04 L185.6 67.79 L186.7 68.09 L187.8 67.84 L188.9 67.75 L190 68.32 L191.1 68.19 L192.2 68.35 L193.3 68.95 L194.4 69.15 L195.5 68.62 L196.6 67.94 L197.7 67.54 L198.8 67.53 L199.9 67.56 L200 67.72 L201 67.4 L202.1 68.03 L203.2 68.21 L204.3 67.99 L205.4 68.11 L206.5 67.77 L207.6 67.89 L208.7 68.14 L209.8 67.94 L210.9 67.86 L212 67.86 L213.1 68.69 L214.2 69.26 L215.3 68.79 L216.4 68.58 L217.5 67.87 L218.6 68.19 L219.7 68.31 L220.8 68.37 L221.9 67.6 L223 66.46 L224.1 67.01 L225.2 67.46 L226.3 67.94 L227.4 67.97 L228.5 67.98 L229.6 67.53 L230.7 66.83 L231.8 66.96 L232.9 67.81 L234 68.43 L235.1 68.98 L236.2 69.03 L237.3 69.04 L238.4 68.7 L239.5 68.07 L240.6 68.22 L241.7 68 L242.8 68.15 L243.9 68.68 L245 68.33 L246.1 68.06 L247.2 67.7 L248.3 68.02 L249.4 68.23 L250.5 68.01 L251.6 68.3 L252.7 68.66 L253.8 68.67 L254.9 68.49 L256 68.55 L257.1 67.82 L258.2 68.46 L259.3 67.95 L260.4 67.86 L261.5 67.45 L262.6 67.32 L263.7 66.65 L264.8 67.5 L265 68.43" stroke="#666" stroke-width="0.7" fill="none" stroke-linejoin="round"/>
<line x1="34.9" y1="73.3" x2="265.5" y2="73.3" stroke="#888" stroke-width="0.9"/>
<path d="M35.0 73.3v-1.6M46.5 73.3v-1.6M58.0 73.3v-1.6M69.5 73.3v-1.6M81.0 73.3v-1.6M92.5 73.3v-1.6M104.0 73.3v-1.6M115.5 73.3v-1.6M127.0 73.3v-1.6M138.5 73.3v-1.6M150.0 73.3v-1.6M161.5 73.3v-1.6M173.0 73.3v-1.6M184.5 73.3v-1.6M196.0 73.3v-1.6M207.5 73.3v-1.6M219.0 73.3v-1.6M230.5 73.3v-1.6M242.0 73.3v-1.6M253.5 73.3v-1.6M265.0 73.3v-1.6" stroke="#999" stroke-width="0.5" fill="none"/>
<path d="M34.9 73.30h4.5M266.2 73.30h-4.9M34.9 70.34h2.0M266.2 70.34h-2.4M34.9 67.39h2.0M266.2 67.39h-2.4M34.9 64.44h2.0M266.2 64.44h-2.4M34.9 61.48h4.5M266.2 61.48h-4.9M34.9 58.52h2.0M266.2 58.52h-2.4M34.9 55.57h2.0M266.2 55.57h-2.4M34.9 52.61h2.0M266.2 52.61h-2.4M34.9 49.66h4.5M266.2 49.66h-4.9M34.9 46.70h2.0M266.2 46.70h-2.4M34.9 43.75h2.0M266.2 43.75h-2.4M34.9 40.79h2.0M266.2 40.79h-2.4M34.9 37.84h4.5M266.2 37.84h-4.9M34.9 34.88h2.0M266.2 34.88h-2.4M34.9 31.93h2.0M266.2 31.93h-2.4M34.9 28.97h2.0M266.2 28.97h-2.4M34.9 26.02h4.5M266.2 26.02h-4.9M34.9 23.06h2.0M266.2 23.06h-2.4M34.9 20.11h2.0M266.2 20.11h-2.4M34.9 17.15h2.0M266.2 17.15h-2.4M34.9 14.20h4.5M266.2 14.20h-4.9" stroke="#8a8a8a" stroke-width="0.6" fill="none"/>
<text x="33.2" y="73.70" font-size="5.4" text-anchor="end" fill="#1a1a1a">0.0</text>
<text x="33.2" y="63.40" font-size="5.4" text-anchor="end" fill="#1a1a1a">0.2</text>
<text x="33.2" y="51.90" font-size="5.4" text-anchor="end" fill="#1a1a1a">0.4</text>
<text x="33.2" y="39.80" font-size="5.4" text-anchor="end" fill="#1a1a1a">0.6</text>
<text x="33.2" y="28.30" font-size="5.4" text-anchor="end" fill="#1a1a1a">0.8</text>
<text x="33.2" y="17.50" font-size="5.4" text-anchor="end" fill="#1a1a1a">1.0</text>
<text transform="translate(21.6,43.2) rotate(-90)" font-size="5.3" text-anchor="middle" fill="#2a2a2a" textLength="40.6" lengthAdjust="spacingAndGlyphs">Blue-sky albedo</text>
<text x="41.0" y="77.75" font-size="4.9" text-anchor="middle" fill="#222">Jan14</text>
<text x="64.0" y="77.75" font-size="4.9" text-anchor="middle" fill="#222">Jul14</text>
<text x="87.0" y="77.75" font-size="4.9" text-anchor="middle" fill="#222">Jan15</text>
<text x="110.0" y="77.75" font-size="4.9" text-anchor="middle" fill="#222">Jul15</text>
<text x="133.0" y="77.75" font-size="4.9" text-anchor="middle" fill="#222">Jan16</text>
<text x="156.0" y="77.75" font-size="4.9" text-anchor="middle" fill="#222">Jul16</text>
<text x="179.0" y="77.75" font-size="4.9" text-anchor="middle" fill="#222">Jan17</text>
<text x="202.0" y="77.75" font-size="4.9" text-anchor="middle" fill="#222">Jul17</text>
<text x="225.0" y="77.75" font-size="4.9" text-anchor="middle" fill="#222">Jan18</text>
<text x="248.0" y="77.75" font-size="4.9" text-anchor="middle" fill="#222">Jul18</text>
<text x="64.5" y="12.25" font-size="6.7" fill="#222" textLength="31.9" lengthAdjust="spacingAndGlyphs">[FLUXNET]</text>
<text x="99.3" y="12.25" font-size="6.7" fill="#222" textLength="33.1" lengthAdjust="spacingAndGlyphs">Brasschaat,</text>
<text x="136.8" y="12.25" font-size="6.7" fill="#222" textLength="25.6" lengthAdjust="spacingAndGlyphs">Belgium.</text>
<text x="166.1" y="12.25" font-size="6.7" fill="#222" textLength="18.0" lengthAdjust="spacingAndGlyphs">Forest</text>
<text x="187.9" y="12.25" font-size="6.7" fill="#222" textLength="25.5" lengthAdjust="spacingAndGlyphs">(51.30N,</text>
<text x="217.2" y="12.25" font-size="6.7" fill="#222" textLength="17.0" lengthAdjust="spacingAndGlyphs">4.52E)</text>
<path d="M40.7 83.6h4" stroke="#c24ed8" stroke-width="0.7"/>
<text x="47.1" y="83.6" font-size="5.2" fill="#c24ed8" textLength="30" lengthAdjust="spacingAndGlyphs">PROBA-V V1</text>
<path d="M104.5 83.6h3" stroke="#2cb82c" stroke-width="0.7"/>
<text x="110.5" y="83.6" font-size="5.2" fill="#1fb81f" textLength="29.5" lengthAdjust="spacingAndGlyphs">MCD43A3 C6</text>
<circle cx="170.2" cy="83.0" r="0.8" fill="#333"/>
<text x="173.7" y="83.7" font-size="5.2" fill="#333" textLength="21" lengthAdjust="spacingAndGlyphs">GBOV RM</text>
</g>
<g transform="translate(269.3,82.1)">
<path d="M41.5 53.59V64.47M54.18 55.17V64.5M63.67 55.13V65.23M74.72 54.08V65.35M96.32 54.12V64.84M100.36 53.44V65.26M110.57 53.97V64.93M114.28 52.51V65.2M114.54 52.48V64.92M118.52 53.59V64.44M120.54 53.07V65.1M130.5 55.69V66.19M132.55 54.15V65.42M136.5 55.13V65.64M137.93 54.46V66.37M146.74 53.71V65.02M148.67 53.77V65.24M150.46 54.4V65.29M154.43 53.87V65.09M156.34 53.01V64.12M159.1 53.78V64.58M160.99 53.58V64.56M162.44 53.06V65.1M164.38 53.97V65.03M168.62 52.99V64.37M171.05 53.48V64.17M171.81 54.41V64.18M175.34 54.19V64.96M176.28 53.16V64.96M180.35 53.64V64.66M181.33 53.02V64.25M184.51 54.48V64.16M187.32 53.11V64.61M189.94 53.16V64.69M192.29 54.16V64.2M193.28 54.69V64.12M197.01 53.1V64.21M199.33 53.36V64.98M206.2 54.83V64.95M207.99 54.41V64.26M209.88 54.14V64.07M212.67 55.4V63.97M214.9 54.16V64.93M217.97 55.51V65.12M220.56 54.27V64.69M221.99 55.44V65.07M224.73 55.34V64.58M227.23 55.16V65.08M230.13 54.06V64.2M232.11 54.23V64.62M235.65 54.89V64.55M238.33 55.04V64.72M239.95 55.4V64.08M241.57 55.5V64.92M244.79 55.07V64.61M245.9 55V65.15M248.29 54.62V64.99M251.13 55.23V64.41M254.36 55.08V64.31M256.09 55.27V65.33M259.26 54.87V64.71M261.58 54.08V64.54M262.74 55.25V64.01" stroke="#f2b8d0" stroke-width="0.65" fill="none" opacity="1"/>
<path d="M155.64 57.45h0.8M163.25 57.31h0.8M258.37 58.88h0.8M264.03 57h0.8M232.85 59.51h0.8M155.26 58.81h0.8M256.53 60.94h0.8M187.6 56.42h0.8M245.46 57.96h0.8M131.09 57.85h0.8M251.69 59.67h0.8M251.06 58.43h0.8M216.66 58.61h0.8M221.15 57.68h0.8M175.96 57.81h0.8M168.45 58.01h0.8M248.86 57.92h0.8M212.89 58.87h0.8M145.25 59.82h0.8M235.81 59.37h0.8M195.74 58.14h0.8M158.63 55.84h0.8M229.41 57.35h0.8M186.15 57.76h0.8M165.06 58.75h0.8M151.41 57.46h0.8M141.96 59.29h0.8M146.75 59.39h0.8M260.62 58.91h0.8M204.49 57.44h0.8M137.66 58.47h0.8M230.43 58.85h0.8M193.81 57.61h0.8M241.01 58.12h0.8M160.46 56.43h0.8M194.41 59.79h0.8M256.05 60.46h0.8M230.29 58.23h0.8M242.36 57.98h0.8M264.33 57.46h0.8M241.38 56.01h0.8M134.36 59.67h0.8M232.72 59.85h0.8M226.78 59.92h0.8M196.31 59.28h0.8M201.84 59.04h0.8M181.95 56.6h0.8M225.99 57.31h0.8M249.78 58.2h0.8M252.66 60.55h0.8M162.12 59.07h0.8M207.45 58.88h0.8M128.23 58.65h0.8M260.55 58.55h0.8M251.95 57.27h0.8M187.15 57h0.8M183.11 58.45h0.8M192.36 59.2h0.8M177.01 58.28h0.8M255.78 58.75h0.8M184.98 55.56h0.8M183.88 56.34h0.8M169.32 58.87h0.8M175.2 58.32h0.8M141.83 61.59h0.8M243.34 57.43h0.8M169.69 58.39h0.8M145.45 57.86h0.8M198.68 58.36h0.8M192.46 61.93h0.8M157.28 59.36h0.8M246.14 56.81h0.8M135.84 57.35h0.8M227.94 59.5h0.8M254.88 58.36h0.8M227.56 59.17h0.8M181.08 59.18h0.8M142.6 59.11h0.8M195.69 56.68h0.8M232.49 59.7h0.8M213.74 58.54h0.8M260.05 59.04h0.8M142.17 57.24h0.8M157.22 57.18h0.8M163.81 56.94h0.8M230.99 57.94h0.8M141.98 62.76h0.8M245.23 58.3h0.8M142.75 62.33h0.8M164.92 60.02h0.8M154.11 58.26h0.8M233.41 57.16h0.8M199.21 57.52h0.8M170.76 58.11h0.8M175.17 57.45h0.8M156.84 58.95h0.8M215.63 59.1h0.8M190.43 59.37h0.8M236.92 58.3h0.8M160.53 59.43h0.8M154.09 59.38h0.8M199.62 59.42h0.8M143.96 58.08h0.8M202.36 56.99h0.8M263.42 58.84h0.8M210.45 58.72h0.8M223.09 58.78h0.8M205.7 58.62h0.8M206.04 57.2h0.8M230.06 57.86h0.8M165.84 60.28h0.8M182.06 59.56h0.8M181.78 60.42h0.8M160.99 60.06h0.8M130.02 60.35h0.8M164.87 56.23h0.8M222.89 58.05h0.8M145.7 58.17h0.8M153.38 59.47h0.8M131.05 59.4h0.8M160.64 60.3h0.8M186.81 59.61h0.8M173.9 57.79h0.8M137.75 57.09h0.8M172.11 57.68h0.8M157.74 59.58h0.8M261.24 59.9h0.8M195.9 59.1h0.8M191.36 57.42h0.8M199.49 58.62h0.8M155.41 61.72h0.8M209.98 60.06h0.8M193.91 60.12h0.8M156.01 57.45h0.8M256.5 57.86h0.8M150.11 60.36h0.8M235.45 57.94h0.8M243.41 58.62h0.8M128.91 58.15h0.8M237.33 59.72h0.8M252.61 60.36h0.8M216.01 57.48h0.8M234.24 57.97h0.8M178.6 58.75h0.8M199.61 57.72h0.8M172.46 58.53h0.8M242.43 57.79h0.8M216.79 59.42h0.8M145.42 59.36h0.8M177.37 57.74h0.8M252.57 59.47h0.8M246.37 58.93h0.8M259.25 57.35h0.8M163.02 58.34h0.8M240.23 57.46h0.8M234.18 56.59h0.8M128.96 59.21h0.8M148.88 59.42h0.8M178.39 58.11h0.8M149.56 58.04h0.8M218.09 57.83h0.8M148.74 56.03h0.8M163.39 57.97h0.8M251.45 59.02h0.8M185.89 56.65h0.8M140.12 57.58h0.8M156.41 58.83h0.8M134.34 61.17h0.8M257.24 55.53h0.8M165.68 56.41h0.8M225.92 59.4h0.8M243.83 59.7h0.8M171.49 56.71h0.8M200.2 60.08h0.8M140.02 59.98h0.8M180.15 58.92h0.8M162.84 59.63h0.8M160.43 55.81h0.8M236.76 59.68h0.8M195.33 58.31h0.8M140.64 56.45h0.8M229.81 56.31h0.8M166.05 58.39h0.8M212.44 58.47h0.8M201.61 59.77h0.8M183.46 55.63h0.8M248.29 57.86h0.8M211.7 56.52h0.8M262.73 56.44h0.8M129.85 59.64h0.8M264.34 57.74h0.8M179.9 59.84h0.8M230.79 59.38h0.8M227.39 59.08h0.8M134.26 58.64h0.8M253.76 56.45h0.8M134.55 60.41h0.8M146.16 58.94h0.8M182.41 58.29h0.8M187.81 58.68h0.8M199.97 60.31h0.8M140.97 58.35h0.8M144.74 60.17h0.8M149.11 58.79h0.8M169.28 60.59h0.8M148.27 57.8h0.8M224.4 59.28h0.8M203.21 60.85h0.8M238.15 56.87h0.8M195.57 58.06h0.8M222.85 57.32h0.8M234.92 57.73h0.8M231.37 59.94h0.8M256.89 58.07h0.8M193.01 57.94h0.8M228.19 60.67h0.8M168.27 57.26h0.8M180.22 58.08h0.8M165.73 56.64h0.8M190.64 58.75h0.8M144.36 58.12h0.8M252.51 60.95h0.8M195.42 57.92h0.8M220.1 60.32h0.8M141.78 58.14h0.8M230.08 59.28h0.8M136.97 58.05h0.8M130.61 58.51h0.8M196.99 59.88h0.8M264.41 54.8h0.8M200.56 56.12h0.8M189.47 58.96h0.8M238.07 60.27h0.8M212.21 58.16h0.8M262.82 56.2h0.8M151.11 58.28h0.8M207.6 59.89h0.8M220.97 57.42h0.8M220.58 58.39h0.8M249.01 59.34h0.8M206.95 60.68h0.8M134.44 59.34h0.8M210.36 60.45h0.8M186.32 57.14h0.8M264.32 58.08h0.8M178.07 59.43h0.8M217.09 58.95h0.8M155.43 57.84h0.8M192.91 59.38h0.8M181.1 57.55h0.8M168.16 58.53h0.8M249.8 59.49h0.8M183.21 58.83h0.8M207.8 56.84h0.8M170.07 59.05h0.8M205.77 56.83h0.8M234.34 58.34h0.8M175.29 60.84h0.8M263.16 57.77h0.8M235.3 56.58h0.8" stroke="#555" stroke-width="0.6" fill="none" opacity="0.75"/>
<path d="M247.71 57.04h0.6M143.53 54.57h0.6M195.8 61.13h0.6M130.65 59.37h0.6M194.97 61.73h0.6M192.48 53.6h0.6M150.84 60.15h0.6M206.61 60.05h0.6M168.16 61.05h0.6M65.71 53.99h0.6M235.11 59.45h0.6M218.84 60.18h0.6M190.6 59.36h0.6M128.46 62.19h0.6M68.82 63.18h0.6M126.09 53.08h0.6M46.2 64.89h0.6M172.5 60.53h0.6M91.09 59.18h0.6M92.21 62.47h0.6M84 60.82h0.6M79.48 62.76h0.6M205.72 62.03h0.6M167.14 61.3h0.6M37.52 53.65h0.6M94.19 61.81h0.6M57.2 58.17h0.6M121.37 56.36h0.6M99.15 64.68h0.6M96.32 60.77h0.6M262.65 64.68h0.6M239.97 60.51h0.6M249.66 63.67h0.6M77.11 54.93h0.6M130.7 64.63h0.6M185.2 62.7h0.6M144.35 63.91h0.6M255.79 61.99h0.6M238.62 60.27h0.6M177.48 62.58h0.6" stroke="#777" stroke-width="0.5" fill="none" opacity="0.7"/>
<path d="M35 65.77 L36.1 65.12 L37.2 64.83 L38 65.05 L38.3 65.23 L39.4 66.07 L40.5 66.22 L41 66.83 L41.5 64.18 L41.6 64.37 L42.7 64.43 L43.8 64.45 L44 64.95 L44.9 64.87 L46 63.06 L47.1 64.62 L48.2 65.02 L49.3 64.58 L50.4 64.16 L51.5 64.13 L52.6 63.97 L53.7 63.91 L54.8 63.7 L55 63.99 L55.9 63.43 L57 63.41 L58.1 63.27 L59.2 63.94 L60.3 63.94 L61.4 65.4 L62.5 63.9 L63.6 62.63 L64.7 64.17 L65.8 64.28 L66.9 64.04 L68 63.71 L68 62.5 L69.1 66.7 L70.2 69.52 L71 71.83 L71.3 70.58 L72 65.63 L72.4 65.1 L73.5 65.1 L74.6 65.8 L75.7 65.93 L76.8 65.76 L77.9 65.21 L78 64.53 L79 61.42 L80 57.72 L80.1 58.72 L81.2 62 L82 64.93 L82.3 64.99 L83.4 65.43 L84.5 63.3 L85.6 64.45 L86.7 64.64 L87.8 64.99 L88.9 65.03 L90 65.35 L90 65.26 L91.1 64.7 L92.2 64.71 L93.3 65.18 L94.4 65.09 L95.5 65.14 L96.6 65.15 L97.7 65.28 L98.8 62.7 L99.9 65.69 L100 65.73 L101 65.49 L102.1 64.36 L103.2 64.03 L104.3 63.53 L105.4 63.82 L106.5 64.19 L107.6 64.56 L108.7 64.58 L109.8 64.12 L110 60.49 L110.9 63.58 L112 64.25 L113.1 64.36 L114.2 64.27 L115.3 63.95 L116.4 63.52 L117.5 63.88 L118.6 62.42 L119.7 66.63 L120 64.28 L120.8 70.06 L121 67.56 L121.9 65.1 L122 64.42M127 66.62 L128.1 66.12 L129.2 66.03 L130.3 65.3 L131.4 65.6 L132.5 65.44 L133.6 65.84 L134.7 65.91 L135.8 65.8 L136.9 65.17 L138 65.13 L139.1 64.63 L140 62.52 L140.2 65.74 L141.3 65.54 L142.4 65.74 L143.5 65.83 L144.6 65.49 L145.7 65.73 L146.8 64.82 L147.9 63.55 L149 64.25 L150 64.07 L150.1 64.65 L151.2 64.69 L152.3 65.62 L153.4 66.17 L154.5 68.73 L155.6 65.41 L156.7 65.37 L157.8 65.21 L158.9 65.55 L160 65.82 L161.1 65.71 L162.2 66.31 L163.3 64.82 L164.4 64.6 L165 64.61 L165.5 64.83 L166.6 65.11 L167.7 64.76 L168.8 64.98 L169.9 63.9 L170 63.99 L171 67.39 L172.1 66.83 L173 67.38 L173.2 66.53 L174.3 65.24 L175 63.25 L175.4 65.09 L176.5 65.32 L177.6 65.01 L178.7 64.31 L179.8 61.06 L180.9 64.28 L182 63.45 L183.1 65.18 L184.2 64.76 L185.3 64.82 L186.4 64.52 L187.5 64.65 L188.6 65.09 L189.7 64.51 L190 64.75 L190.8 64.38 L191.9 65.16 L193 64.34 L194.1 64.68 L195.2 64.47 L196.3 64.59 L197.4 64.57 L198.5 65.27 L199.6 64.69 L200 64.98 L200.7 64.56 L201.8 64.96 L202.9 65.28 L204 66.24 L205.1 66.6 L206.2 66.65 L207.3 66.64 L208.4 66.04 L209.5 65.41 L210 64.74 L210.6 64.59 L211.7 63.05 L212.8 65.28 L213.9 66.47 L215 65.24 L216.1 66.98 L216.7 67.43 L217.2 61.4 L217.7 55.59 L218.3 63.17 L218.7 68.18 L219.4 67.16 L220 65.47 L220.5 66.1 L221.6 64.36 L222.7 65.61 L223.8 65.51 L224.9 65.26 L226 64.96 L227.1 64.73 L228.2 64.88 L229.3 64.63 L230 64.72 L230.4 64.72 L231.5 64.76 L232.6 64.99 L233.7 62.57 L234.8 65.01 L235.9 66 L237 66 L238.1 66.17 L239.2 65.93 L240 64.75 L240.3 64.31 L241.4 64.3 L242.5 63.98 L243.6 64.7 L244.7 66.53 L245.8 67.35 L246.9 65.75 L248 65.71 L249.1 65.99 L250.2 65.46 L251.3 65.2 L252.4 65.71 L253.5 65.86 L254.6 66.21 L255 65.94 L255.7 69.28 L256.8 66.11 L257.9 65.64 L259 64.96 L260.1 65.15 L261.2 64.91 L262 64.56 L262.3 65.16 L263.4 66.38 L264.5 65.51 L265 66.14" stroke="#28a828" stroke-width="1.1" fill="none" stroke-linejoin="round"/>
<path d="M36.8 61.91 L37.9 61.52 L39 60.23 L40.1 60.86 L41.2 60.74 L42.3 61.51 L43.4 60.63 L44.5 59.95 L45.6 59.62 L46.7 60.38 L47.8 60.1 L48.9 59.98 L50 60.11 L50 60.48 L51.1 59.87 L52.2 61.3 L53.3 60.91 L54.4 61.27 L55.5 61.47 L56.6 61.54 L57.7 61.69 L58.8 61.39 L59.9 61.06 L60 61.59 L61 61.61 L62.1 60.96 L63.2 60.88 L64.3 60.62 L65.4 62.14 L66.5 61.82 L67.6 61.58 L68.7 61.25 L69.8 60.83 L70 60.5 L70.9 60.9 L72 61.03 L73.1 62.18 L74.2 62.37 L75.3 62.69 L76 61.71M86.4 62.15 L87.5 61.7 L88.6 61.43 L89.7 61.01 L90.8 61.13 L91.9 59.81 L93 59.67 L94.1 59.5 L95 60.34 L95.2 60.62 L96 62.85 L96.3 61.77 L97.4 60.66 L98.5 60.42 L99.6 60.29 L100 60.07 L100.7 60.42 L101.8 60.69 L102.9 61.22 L104 61.22 L105.1 60.82 L106.2 61.1 L107.3 60.84 L108.4 61.28 L109.5 60.86 L110 61.28 L110.6 61.63 L111.7 61.18 L112.8 60.96 L113.9 60.66 L115 61.06 L116.1 61.67 L117.2 61.82 L118.3 61.28 L119.4 61.81 L120.5 61.56 L121 61.42M129.2 61.7 L130.3 61.8 L131.4 62.41 L132.5 62.65 L133.6 62.07 L134.7 61.82 L135.8 60.71 L136.9 61.44 L138 61.16 L139.1 61.41 L140 62.21 L140.2 60.96 L141.3 61.49 L142.4 61.19 L143.5 61.24 L144.6 60.35 L145.7 60.91 L146.8 60.42 L147.9 60.62 L149 61.74 L150.1 61.61 L151.2 61.36 L152.3 59.78 L153.4 59.33 L154.5 59.08 L155.6 59.26 L156.7 59.51 L157.8 60.87 L158.9 61.75 L160 60.95 L160 60.45 L161.1 59.99 L162.2 59.84 L163.3 59.4 L164.4 59.37 L165.5 58.98 L166.6 59.34 L167.7 59.84 L168.8 59.49 L169.9 60.49 L170 60.33 L171 60.43 L172.1 61.45 L173.2 60.99 L174.3 60.71 L175.4 59.91 L176.5 60.55 L177.6 60.38 L178.7 61.39 L179.8 61.44 L180 60.93 L180.9 60.48 L182 60.99 L183.1 60.35 L184.2 60.87 L185.3 60.59 L186.4 59.98 L187.5 58.73 L188.6 58.71 L189.7 59.16 L190 59.42 L190.8 59.35 L191.9 58.67 L193 59.08 L194.1 58.95 L195.2 59.74 L196.3 59.57 L197.4 60.3 L198.5 60.54 L199.6 60.43 L200 61 L200.7 61.11 L201.8 60.94 L202.9 60.92 L204 61.08 L205.1 60.04 L206.2 59.62 L207.3 59.86 L208.4 58.6 L209.5 59.15 L210 59.01 L210.6 59.49 L211.7 59.73 L212.8 59.82 L213.9 60.31 L215 60.23 L216.1 61.66 L217.2 60.62 L218.3 60.73 L219.4 60.97 L220 61.55 L220.5 60.68 L221.6 59.93 L222.7 60.25 L223.8 60.19 L224.9 59.88 L226 60.32 L227.1 59.66 L228.2 59.8 L229.3 60.08 L230 60.66 L230.4 60.62 L231.5 60.51 L232.6 60.25 L233.7 59.94 L234.8 59.5 L235.9 59.11 L237 58.53 L238.1 58.41 L239.2 58.89 L240 59.37 L240.3 58.76 L241.4 59.29 L242.5 59.64 L243.6 59.29 L244.7 59.98 L245.8 61.55 L246.9 61.16 L248 60.53 L249.1 60.31 L250 60.74 L250.2 61.17 L251.3 60.56 L252.4 59.98 L253.5 59.38 L254.6 59.56 L255.7 59.56 L256.8 59.55 L257.9 60.41 L259 60.48 L260 61 L260.1 60.53 L261.2 59.61 L262.3 59.5 L263.4 60.32 L264.5 60.85 L265 60.89" stroke="#c24ed8" stroke-width="1.0" fill="none" stroke-linejoin="round"/>
<path d="M128 59.02 L129.1 59.35 L130.2 59.11 L131.3 57.95 L132.4 57.9 L133.5 58.19 L134.6 58.17 L135.7 58.35 L136.8 58.54 L137.9 58.8 L139 59.31 L140 58.64 L140.1 58.34 L141.2 58.67 L142.3 58.76 L143.4 58.92 L144.5 58.34 L145.6 58.23 L146.7 57.7 L147.8 58.86 L148.9 58.77 L150 59.37 L151.1 59.35 L152.2 59.09 L153.3 58.95 L154.4 58.14 L155.5 57.68 L156.6 58.48 L157.7 58.45 L158.8 59.1 L159.9 59.2 L160 59.41 L161 58.72 L162.1 57.83 L163.2 58.13 L164.3 58.65 L165.4 59.49 L166.5 59.36 L167.6 59.88 L168.7 58.72 L169.8 58.65 L170.9 58.59 L172 58.58 L173.1 59.61 L174.2 59.5 L175.3 58.95 L176.4 58.42 L177.5 58.52 L178.6 58.22 L179.7 57.99 L180 58.82 L180.8 58.83 L181.9 59.33 L183 59.85 L184.1 59.76 L185.2 59.71 L186.3 60.08 L187.4 60.26 L188.5 59.61 L189.6 58.75 L190.7 58.09 L191.8 58.03 L192.9 58.19 L194 59.49 L195.1 59.52 L196.2 59.92 L197.3 59.41 L198.4 58.74 L199.5 58.98 L200 59.62 L200.6 59.32 L201.7 58.94 L202.8 58.34 L203.9 58.42 L205 58.54 L206.1 59.87 L207.2 59.89 L208.3 59.69 L209.4 59.37 L210.5 58.38 L211.6 57.86 L212.7 58.77 L213.8 59.12 L214.9 59.57 L216 58.93 L217.1 60.51 L218.2 60.33 L219.3 60.05 L220 59.31 L220.4 59.07 L221.5 58.71 L222.6 59.51 L223.7 58.78 L224.8 59.22 L225.9 59.66 L227 60.04 L228.1 60.34 L229.2 60.48 L230.3 59.5 L231.4 59.28 L232.5 59.33 L233.6 60.19 L234.7 59.77 L235.8 59.69 L236.9 59.17 L238 59.59 L239.1 59.8 L240 59.95 L240.2 59.61 L241.3 60.48 L242.4 60.82 L243.5 60.55 L244.6 59.76 L245.7 59.16 L246.8 59.04 L247.9 59.42 L249 59.66 L250.1 60.14 L251.2 59.95 L252.3 60.65 L253.4 60.8 L254.5 60.83 L255.6 60.09 L256.7 59.25 L257.8 59.62 L258.9 59.48 L260 59.67 L260 59.81 L261.1 58.86 L262.2 58.88 L263.3 58.93 L264.4 58.21 L265 58.01" stroke="#666" stroke-width="0.7" fill="none" stroke-linejoin="round"/>
<line x1="34.9" y1="73.3" x2="265.5" y2="73.3" stroke="#888" stroke-width="0.9"/>
<path d="M35.0 73.3v-1.6M46.5 73.3v-1.6M58.0 73.3v-1.6M69.5 73.3v-1.6M81.0 73.3v-1.6M92.5 73.3v-1.6M104.0 73.3v-1.6M115.5 73.3v-1.6M127.0 73.3v-1.6M138.5 73.3v-1.6M150.0 73.3v-1.6M161.5 73.3v-1.6M173.0 73.3v-1.6M184.5 73.3v-1.6M196.0 73.3v-1.6M207.5 73.3v-1.6M219.0 73.3v-1.6M230.5 73.3v-1.6M242.0 73.3v-1.6M253.5 73.3v-1.6M265.0 73.3v-1.6" stroke="#999" stroke-width="0.5" fill="none"/>
<path d="M34.9 73.30h4.5M266.2 73.30h-4.9M34.9 70.34h2.0M266.2 70.34h-2.4M34.9 67.39h2.0M266.2 67.39h-2.4M34.9 64.44h2.0M266.2 64.44h-2.4M34.9 61.48h4.5M266.2 61.48h-4.9M34.9 58.52h2.0M266.2 58.52h-2.4M34.9 55.57h2.0M266.2 55.57h-2.4M34.9 52.61h2.0M266.2 52.61h-2.4M34.9 49.66h4.5M266.2 49.66h-4.9M34.9 46.70h2.0M266.2 46.70h-2.4M34.9 43.75h2.0M266.2 43.75h-2.4M34.9 40.79h2.0M266.2 40.79h-2.4M34.9 37.84h4.5M266.2 37.84h-4.9M34.9 34.88h2.0M266.2 34.88h-2.4M34.9 31.93h2.0M266.2 31.93h-2.4M34.9 28.97h2.0M266.2 28.97h-2.4M34.9 26.02h4.5M266.2 26.02h-4.9M34.9 23.06h2.0M266.2 23.06h-2.4M34.9 20.11h2.0M266.2 20.11h-2.4M34.9 17.15h2.0M266.2 17.15h-2.4M34.9 14.20h4.5M266.2 14.20h-4.9" stroke="#8a8a8a" stroke-width="0.6" fill="none"/>
<text x="33.2" y="73.70" font-size="5.4" text-anchor="end" fill="#1a1a1a">0.0</text>
<text x="33.2" y="63.40" font-size="5.4" text-anchor="end" fill="#1a1a1a">0.2</text>
<text x="33.2" y="51.90" font-size="5.4" text-anchor="end" fill="#1a1a1a">0.4</text>
<text x="33.2" y="39.80" font-size="5.4" text-anchor="end" fill="#1a1a1a">0.6</text>
<text x="33.2" y="28.30" font-size="5.4" text-anchor="end" fill="#1a1a1a">0.8</text>
<text x="33.2" y="17.50" font-size="5.4" text-anchor="end" fill="#1a1a1a">1.0</text>
<text transform="translate(21.6,43.2) rotate(-90)" font-size="5.3" text-anchor="middle" fill="#2a2a2a" textLength="40.6" lengthAdjust="spacingAndGlyphs">Blue-sky albedo</text>
<text x="41.0" y="77.75" font-size="4.9" text-anchor="middle" fill="#222">Jan14</text>
<text x="64.0" y="77.75" font-size="4.9" text-anchor="middle" fill="#222">Jul14</text>
<text x="87.0" y="77.75" font-size="4.9" text-anchor="middle" fill="#222">Jan15</text>
<text x="110.0" y="77.75" font-size="4.9" text-anchor="middle" fill="#222">Jul15</text>
<text x="133.0" y="77.75" font-size="4.9" text-anchor="middle" fill="#222">Jan16</text>
<text x="156.0" y="77.75" font-size="4.9" text-anchor="middle" fill="#222">Jul16</text>
<text x="179.0" y="77.75" font-size="4.9" text-anchor="middle" fill="#222">Jan17</text>
<text x="202.0" y="77.75" font-size="4.9" text-anchor="middle" fill="#222">Jul17</text>
<text x="225.0" y="77.75" font-size="4.9" text-anchor="middle" fill="#222">Jan18</text>
<text x="248.0" y="77.75" font-size="4.9" text-anchor="middle" fill="#222">Jul18</text>
<text x="62.7" y="12.25" font-size="6.7" fill="#222" textLength="21.7" lengthAdjust="spacingAndGlyphs">[BSRN]</text>
<text x="87.7" y="12.25" font-size="6.7" fill="#222" textLength="22.9" lengthAdjust="spacingAndGlyphs">Cabauw,</text>
<text x="113.9" y="12.25" font-size="6.7" fill="#222" textLength="33.5" lengthAdjust="spacingAndGlyphs">Netherland.</text>
<text x="152.6" y="12.25" font-size="6.7" fill="#222" textLength="31.4" lengthAdjust="spacingAndGlyphs">Grasslands</text>
<text x="187.5" y="12.25" font-size="6.7" fill="#222" textLength="24.4" lengthAdjust="spacingAndGlyphs">(51.97N,</text>
<text x="215.4" y="12.25" font-size="6.7" fill="#222" textLength="20.1" lengthAdjust="spacingAndGlyphs">4.92E)</text>
<path d="M40.7 83.6h4" stroke="#c24ed8" stroke-width="0.7"/>
<text x="47.1" y="83.6" font-size="5.2" fill="#c24ed8" textLength="30" lengthAdjust="spacingAndGlyphs">PROBA-V V1</text>
<path d="M104.5 83.6h3" stroke="#2cb82c" stroke-width="0.7"/>
<text x="110.5" y="83.6" font-size="5.2" fill="#1fb81f" textLength="29.5" lengthAdjust="spacingAndGlyphs">MCD43A3 C6</text>
<circle cx="170.2" cy="83.0" r="0.8" fill="#333"/>
<text x="173.7" y="83.7" font-size="5.2" fill="#333" textLength="21" lengthAdjust="spacingAndGlyphs">GBOV RM</text>
</g>
<g transform="translate(0.0,164.2)">
<path d="M41.9 54.81V67.71M42.25 54.76V68.14M53.07 55.75V68.11M54.17 55.59V67.65M55.32 55.56V67.94M55.94 55.54V66.86M61.56 55.31V67.27M62.12 55.11V66.55M62.61 55.05V67.79M73.03 55.12V66.84M74.06 55.58V67.72M74.69 54.89V67.16M75.3 55.61V67.58M82.06 55.88V66.82M83.61 54.58V67.47M84.06 54.39V66.93M85.22 55.87V67.58M86.47 54.58V66.61M99.56 55.29V68.04M99.96 55.85V66.63M101.2 54.26V67.43M102.44 55.8V66.77M103.12 54.73V67.75M110.04 55.39V66.81M110.84 55.44V67.77M112.22 54.41V66.7M113.06 55.88V66.72M113.92 55.3V67.88M120.67 54.71V67.49M121.85 54.36V66.52M122.89 55.08V66.97M123.74 54.2V67.79M124.56 55.84V66.93M125.62 54.05V66.94M131.17 55.64V67.74M131.69 55.71V66.75M132.75 55V67.63M133.43 54.78V67.1M134.67 55.85V67.47M135.39 55.76V67.77M136.31 54.14V66.78M137 54.3V68.08M146.33 55.25V67.74M147.04 54.91V67.63M148.4 55.89V67.67M149.3 55.22V66.9M149.9 55.86V67.85M155.92 56.24V67.28M156.38 56.95V66.75M157.74 56.69V66.55M158.1 56.6V67.52M158.97 56.35V66.45M165.07 56.04V66.5M165.96 56.82V67.17M166.21 56.85V66.29M167.13 56.67V66.24M167.77 57.29V67.44M169.02 55.88V66.89M170.04 56.74V67.31M170.74 56.05V66.77M171.44 56.66V66.26M172.56 56.71V67.2M174 57.07V67.06M180.28 56.24V66.52M180.83 55.85V66.93M182.01 56.81V67.31M182.84 56.07V66.58M183.47 57V67.03M184.26 56.75V67.13M185.39 56.88V66.51M186.51 56.12V66.55M196.45 55.76V66.88M197.21 55.99V67.47M198.74 56.76V66.88M203.8 55.86V66.17M205.24 56.86V66.37M206.14 56.06V66.21M206.56 57.11V67.24M208.05 56.82V66.67M208.17 57.1V66.25M209.74 56.94V66.83M215.75 56.46V66.95M216.73 56.84V67.47M218.19 56.53V66.72M218.73 56.42V67.55M219.56 56.72V67.54M220.68 57.02V66.93M229.38 56.37V66.49M229.89 56.13V66.93M230.52 56.72V67.21M231.51 56.61V66.94M232.69 56.2V66.19M234.24 56.1V67.42M234.8 56.52V66.57M235.35 56.45V66.57M242.49 56.99V66.19M243.32 55.77V66.77M244.31 56.16V67.29M244.96 56.48V67.06M246.06 55.82V67.45M246.91 55.85V66.18M247.16 56.86V66.15M248.57 56.95V67.43M249.05 56.09V66.24M250.73 56.69V66.55M251.07 56.18V67.41M252.3 56.99V66.66" stroke="#f2b8d0" stroke-width="0.9" fill="none" opacity="0.75"/>
<path d="M147.53 62.46h0.6M249.98 58.55h0.6M196.66 58.94h0.6M157.58 56.77h0.6M109.83 60.48h0.6M93.19 60.52h0.6M91.3 59.46h0.6M72.66 61.13h0.6M47.88 59.22h0.6M186.48 59.8h0.6M73.34 60.51h0.6M155.75 62.7h0.6M242.78 57.35h0.6M148.19 62.44h0.6M87.25 62.36h0.6M220.92 62.57h0.6M70.02 63.98h0.6M213.16 59.16h0.6M113.49 56.26h0.6M227.48 54.99h0.6M190.54 60.61h0.6M96.5 60.15h0.6M63.51 62.31h0.6M85.73 57.79h0.6M112.32 60.06h0.6M222.31 68.39h0.6M122.88 60.48h0.6M96.58 64.47h0.6M244.65 56.43h0.6M246 59.63h0.6M189.64 59.29h0.6M252.01 59.23h0.6M158.49 60.56h0.6M107.96 62.22h0.6M186.53 62.86h0.6M70.98 57.33h0.6M182.78 59.2h0.6M166.51 64.55h0.6M179.33 62.36h0.6M88.03 64.73h0.6" stroke="#777" stroke-width="0.5" fill="none" opacity="0.7"/>
<path d="M35.2 65.8 L36.3 64.22 L37.4 64.27 L38.5 62.81 L39.6 62.82 L40.7 62.38 L41 62.96 L41.8 62.71 L42.9 62.25 L44 62.17 L45.1 61.77 L46.2 61.81 L47.3 61.17 L48.4 60.83 L49.5 60.8 L50.6 60.77 L51.7 61.97 L52.8 62.22 L53.9 62.53 L55 61.99 L56.1 61.89 L57.2 62.36 L58.3 62.87 L59.4 63.28 L60 63.68 L60.5 64.42 L61.6 64.06 L62.7 64.22 L63.8 64.95 L64.9 64.38 L66 64 L67.1 63.12 L68.2 63.25 L69.3 62.89 L70 64.24 L70.4 64.57 L71.5 64.68 L72.6 64.86 L73.7 64.29 L74.8 63.39 L75.9 62.24 L77 61.68 L78.1 62.07 L79.2 61.94 L80.3 62.5 L81.4 62.23 L82.5 62.95 L83.6 62.96 L84.7 63.03 L85.8 62.48 L86.9 62.63 L88 61.47 L89.1 62.22 L90 62.04 L90.2 62.08 L91.3 61.74 L92.4 61.99 L93.5 62.12 L94.6 62.77 L95.7 62.95 L96.8 62.81 L97.9 64.05 L99 63.48 L100.1 63.3 L101.2 62.77 L102.3 63.84 L103.4 62.98 L104.5 62.96 L104.8 62.31 L105.6 66.51 L106.5 68.56 L106.7 67.01 L107.8 63.61 L107.8 63.16 L108.9 63.23 L110 63.53 L111.1 63.42 L112.2 63.02 L113.3 63.19 L114.4 63.06 L115.5 63.16 L116.6 62.89 L117.7 62.55 L118.8 62.6 L119.9 62.54 L120 61.77 L121 62.49 L122.1 62.26 L123.2 61.74 L124.3 62.11 L125.4 62.26 L126.5 62.4 L127.6 63.04 L128.7 63.04 L129.8 62.77 L130.9 62.62 L132 62.71 L133.1 62.51 L134.2 61.95 L135.3 62.47 L136.4 62.88 L137.5 62.01 L138.6 61.82 L139.7 61.91 L140 62.28 L140.8 63.62 L141.9 63.84 L143 63.89 L144.1 63.92 L145.2 63.31 L146.3 63.06 L146.8 63.87 L147.4 64.33 L148 65.48 L148.5 63.46 L149.2 62.81 L149.6 63.16 L150.7 63.21 L151.8 63.63 L152.9 63.49 L154 63.18 L155.1 63.49 L156.2 63.45 L157.3 63.31 L158.4 63.05 L159.5 63.83 L160.6 64.2 L161.7 63.33 L162.8 62.84 L163.9 62.76 L165 62.96 L166.1 63.07 L167.2 64.89 L168.3 64.37 L169.4 64.21 L170 63.7 L170.5 62.97 L171.6 63.56 L172.7 63.35 L173.8 64.93 L174.9 64.91 L176 65.17 L177.1 64.15 L178.2 64.81 L179.3 64.86 L180.4 64.54 L181.5 64 L182.6 63.62 L183.7 63.17 L184.8 63.88 L185.9 64.34 L187 64.88 L188.1 63.93 L189.2 63.13 L190 63.32 L190.3 63.93 L191.4 64.52 L192.5 64.46 L193.6 64.4 L194.7 63.42 L195.8 63.64 L196.9 65.01 L198 65.13 L199.1 64.92 L200.2 63.59 L201.3 62.89 L202.4 63.2 L203.5 63.49 L204.6 63.4 L205.7 63.88 L206.8 64.45 L207.9 64.72 L209 63.74 L210 62.71 L210.1 63.58 L211.2 63.69 L212.3 64.26 L213.4 64.18 L214.5 64.3 L215.6 63.96 L216.7 63.2 L217.8 62.95 L218.9 62.47 L220 62.21 L221.1 62.99 L222.2 63.15 L223.3 63.53 L224.4 62.86 L225 63.32 L225.5 63.29 L226.6 62.41 L227.7 62.74 L228.8 63.09 L229.9 64.53 L231 64.05 L232.1 64.14 L233.2 64.52 L234.3 64.74 L235 65.31 L235.4 65.06 L236.5 65.52 L237.6 63.85 L238.7 62.75 L239.8 63.59 L240.9 63.82 L242 64.53 L243.1 63.97 L244.2 62.74 L245.3 63.12 L246.4 63.43 L247.5 64.13 L248 64.32 L248.6 62.07 L249.4 59 L249.7 60.29 L250.5 64.46 L250.8 64.44 L251.9 64.67 L253 64.17 L254.1 63.95 L255.2 63.99 L256.3 63.72 L257.4 63.45 L258.5 62.83 L259.6 63.08 L260.7 63.17 L261.8 63.72 L262.9 62.99 L264 62.2 L265 61.89" stroke="#28a828" stroke-width="1.1" fill="none" stroke-linejoin="round"/>
<path d="M35.2 65.8 L36.3 64.81 L37.4 64.9 L37.5 64.59 L38.5 63.76 L39.6 63.6 L40.7 62.96 L41 62.28 L41.8 61.49 L42.9 61.97 L44 61.78 L45.1 62.22 L46.2 61.96 L47.3 60.77 L48.4 60 L49.5 59.79 L50.6 60.56 L51.7 60 L52.8 60.27 L53.9 60.02 L55 60.89 L56.1 61.23 L57.2 61.67 L58.3 62.61 L59.4 62.36 L60 61.6 L60.5 60.62 L61.6 60.16 L62.7 60.15 L63.8 60.62 L64.9 60.42 L66 61.87 L67.1 62.57 L68.2 62.72 L69.3 62.7 L70.4 62.59 L71.5 62.07 L72.6 62.37 L73.7 61.26 L74.8 60.46 L75.9 60.82 L77 61.68 L78.1 62.15 L79.2 61.73 L80 62.26 L80.3 62.05 L81.4 62.03 L82.5 61.45 L83.6 60.54 L84.7 61.15 L85.8 60.61 L86.9 61.44 L88 61.17 L89.1 61.41 L90.2 60.8 L91.3 61.57 L92.4 60.75 L93.5 59.58 L94 58.54 L94.6 59.88 L95.7 60.72 L96.8 62.01 L97.9 62 L99 61.29 L100.1 61.75 L101.2 61.81 L102.3 61.4 L103.4 61.63 L104.5 61.92 L105.6 62.16 L106.7 62.52 L107.8 61.94 L108.9 61.71 L110 61.83 L110 61.99 L111.1 62.56 L112.2 62.83 L113.3 61.93 L114.4 61.42 L115.5 60.7 L116.6 60.93 L117.7 61.61 L118.8 61.39 L119.9 61.95 L121 61.87 L122.1 61.06 L123.2 60.88 L124.3 60.82 L125.4 60.8 L126.5 61.04 L127.6 61.63 L128.7 60.89 L129.8 61.2 L130 61.32 L130.9 62.11 L132 61.27 L133.1 61.14 L134.2 60.41 L135.3 61.14 L136.4 60.7 L137.5 60.62 L138.6 60.24 L139.7 60.19 L140.8 60.69 L141.9 61.59 L143 60.94 L144.1 61.79 L145.2 61.25 L146.3 61.4 L147.4 63.13 L148.5 63.58 L149.6 63.79 L150 63.57 L150.7 62.5 L151.8 62.52 L152.9 62.13 L154 61.91 L155.1 61.47 L156.2 60.86 L157.3 60.88 L158.4 60.61 L159.5 60.67 L160.6 60.77 L161.7 61.08 L162.8 61.9 L163.9 62.11 L165 61.97 L166.1 61.06 L167.2 61.82 L168.3 61.71 L169.4 61.89 L170 61.27 L170.5 61.89 L171.6 61.7 L172.7 62.24 L173.8 62 L174.9 61.91 L176 61.37 L177.1 61.1 L178.2 62.9 L179.3 63.32 L180.4 63.85 L181.5 63.68 L182.6 62.77 L183.7 62.4 L184.8 62.03 L185.9 62.41 L187 62.94 L188.1 62.2 L189.2 61.87 L190 61.91 L190.3 62.31 L191.4 62.38 L192.5 62.23 L193.6 62.01 L194.7 61.84 L195.8 61.77 L196.9 61.02 L198 61.74 L199.1 60.59 L200.2 61.64 L201.3 61.84 L202.4 62.49 L203.5 62.56 L204.6 61.65 L205.7 61.96 L206.8 62.43 L207.9 62.63 L209 62.47 L210 62.38 L210.1 62.46 L211.2 62.03 L212.3 61.26 L213.4 61.14 L214.5 61.46 L215.6 61 L216.7 61.23 L217.8 61.61 L218.9 60.64 L220 60.74 L221.1 61.24 L222.2 61.06 L223.3 61.53 L224.4 61.72 L225.5 61.57 L226.6 61.63 L227.7 61.91 L228.8 61.75 L229.9 62.06 L230 62.78 L231 62.73 L232.1 62.72 L233.2 62.17 L234.3 61.46 L235.4 61 L236.5 60.54 L237.6 61.02 L238.7 61.21 L239.8 61.65 L240.9 61.94 L242 61.8 L243.1 62.04 L244.2 62.29 L245.3 61.99 L246.4 61.98 L247.5 61.57 L248.6 61.33 L249.7 61.18 L250 61.14 L250.8 61.24 L251.9 61.53 L253 61.4 L254.1 61.52 L255.2 61.5 L256.3 61.61 L257.4 61.38 L258 61.44 L258.5 61.28 L259.6 61.57 L260.7 61.4 L261.8 60.36 L262.9 60.29 L264 60.66 L265 60.19" stroke="#c24ed8" stroke-width="1.0" fill="none" stroke-linejoin="round"/>
<path d="M35.2 63.7 L36.3 63.64 L37.4 62.86 L38.5 63.23 L39.6 63.12 L40.7 63.46 L41 62.75 L41.8 63.01 L42.9 62.73 L44 62.47 L45.1 62.49 L46.2 62.7 L47.3 62.23 L48.4 62.66 L49.5 63.24 L50.6 62.86 L51.7 62.39 L52.8 61.51 L53.9 61.13 L55 60.81 L56.1 60.6 L57.2 61.58 L58.3 62.09 L59.4 62.31 L60.5 61.99 L61.6 61.89 L62.7 61.71 L63.8 61.81 L64.9 61.88 L66 61.43 L67.1 61.25 L68.2 61.2 L69.3 61.95 L70.4 61.73 L71.5 62.24 L72.6 62.5 L73.7 62.39 L74.8 63.08 L75.9 62.87 L77 62.13 L78.1 61.65 L79.2 62.35 L80 61.86 L80.3 61.7 L81.4 61.47 L82.5 60.86 L83.6 61.46 L84.7 60.96 L85.8 61.42 L86.9 61.39 L88 62.4 L89.1 62.61 L90.2 62.52 L91.3 62.59 L92.4 62.31 L93.5 61.53 L94.6 61.34 L95.7 61.42 L96.8 61.75 L97.9 61.97 L99 61.37 L100.1 62.33 L101.2 61.89 L102.3 62 L103.4 61.53 L104.5 61.85 L105.6 61.47 L106.7 61.44 L107.8 61.22 L108.9 61 L110 61.51 L111.1 61.47 L112.2 62.21 L113.3 61.49 L114.4 61.3 L115.5 61.62 L116.6 62.01 L117.7 62.5 L118.8 63.27 L119.9 62.33 L121 62.32 L122.1 62.32 L123.2 61.76 L124.3 62.49 L125.4 62.72 L126.5 62.85 L127.6 62.41 L128.7 61.49 L129.8 61.72 L130 61.53 L130.9 62.02 L132 62.34 L133.1 62.26 L134.2 62.87 L135.3 62.02 L136.4 62.24 L137.5 61.33 L138.6 61.44 L139.7 61.17 L140.8 61 L141.9 61.88 L143 61.2 L144.1 61.8 L145.2 62.05 L146.3 61.93 L147.4 62.02 L148.5 62.18 L149.6 61.99 L150.7 62.2 L151.8 62.1 L152.9 62.02 L154 61.39 L155.1 62.35 L156.2 62.58 L157.3 61.48 L158.4 60.93 L159.5 61.87 L160.6 61.39 L161.7 62.25 L162.8 62.14 L163.9 62.89 L165 63.17 L166.1 62.02 L167.2 61.93 L168.3 61.54 L169.4 62.42 L170.5 62.34 L171.6 62.82 L172.7 63.25 L173.8 63.56 L174.9 62.46 L176 62.07 L177.1 61.06 L178.2 61.14 L179.3 62.34 L180 62.9 L180.4 63.67 L181.5 63.07 L182.6 62.31 L183.7 62.93 L184.8 62.07 L185.9 62.05 L187 61.57 L188.1 61.78 L189.2 62.04 L190.3 61.97 L191.4 62.04 L192.5 61.6 L193.6 62 L194.7 61.94 L195.8 62.32 L196.9 62.9 L198 63.02 L199.1 63.47 L200.2 63.01 L201.3 62.46 L202.4 62.27 L203.5 61.3 L204.6 61.62 L205.7 62.05 L206.8 61.37 L207.9 62.2 L209 62.31 L210.1 62.06 L211.2 62.31 L212.3 61.8 L213.4 62.81 L214.5 62.33 L215.6 62.38 L216.7 62.04 L217.8 61.38 L218.9 62.29 L220 62.51 L221.1 62.29 L222.2 62.04 L223.3 61.64 L224.4 61.91 L225.5 62.08 L226.6 62.11 L227.7 61.87 L228.8 61.95 L229.9 61.16 L230 60.97 L231 61.35 L232.1 62 L233.2 62.07 L234.3 61.72 L235.4 62.07 L236.5 62.4 L237.6 62.54 L238.7 62.24 L239.8 62 L240.9 61.45 L242 61.79 L243.1 63.17 L244.2 63.39 L245.3 63.69 L246.4 63.05 L247.5 62.57 L248.6 61.69 L249.7 61.52 L250.8 62.11 L251.9 62.79 L253 63.05 L254.1 62.62 L255.2 62.14 L256.3 61.53 L257.4 61.9 L258.5 61.61 L259.6 61.28 L260.7 61.56 L261.8 61.03 L262.9 61.46 L264 61.88 L265 61.74" stroke="#666" stroke-width="0.7" fill="none" stroke-linejoin="round"/>
<line x1="34.9" y1="73.3" x2="265.5" y2="73.3" stroke="#888" stroke-width="0.9"/>
<path d="M35.0 73.3v-1.6M46.5 73.3v-1.6M58.0 73.3v-1.6M69.5 73.3v-1.6M81.0 73.3v-1.6M92.5 73.3v-1.6M104.0 73.3v-1.6M115.5 73.3v-1.6M127.0 73.3v-1.6M138.5 73.3v-1.6M150.0 73.3v-1.6M161.5 73.3v-1.6M173.0 73.3v-1.6M184.5 73.3v-1.6M196.0 73.3v-1.6M207.5 73.3v-1.6M219.0 73.3v-1.6M230.5 73.3v-1.6M242.0 73.3v-1.6M253.5 73.3v-1.6M265.0 73.3v-1.6" stroke="#999" stroke-width="0.5" fill="none"/>
<path d="M34.9 73.30h4.5M266.2 73.30h-4.9M34.9 70.34h2.0M266.2 70.34h-2.4M34.9 67.39h2.0M266.2 67.39h-2.4M34.9 64.44h2.0M266.2 64.44h-2.4M34.9 61.48h4.5M266.2 61.48h-4.9M34.9 58.52h2.0M266.2 58.52h-2.4M34.9 55.57h2.0M266.2 55.57h-2.4M34.9 52.61h2.0M266.2 52.61h-2.4M34.9 49.66h4.5M266.2 49.66h-4.9M34.9 46.70h2.0M266.2 46.70h-2.4M34.9 43.75h2.0M266.2 43.75h-2.4M34.9 40.79h2.0M266.2 40.79h-2.4M34.9 37.84h4.5M266.2 37.84h-4.9M34.9 34.88h2.0M266.2 34.88h-2.4M34.9 31.93h2.0M266.2 31.93h-2.4M34.9 28.97h2.0M266.2 28.97h-2.4M34.9 26.02h4.5M266.2 26.02h-4.9M34.9 23.06h2.0M266.2 23.06h-2.4M34.9 20.11h2.0M266.2 20.11h-2.4M34.9 17.15h2.0M266.2 17.15h-2.4M34.9 14.20h4.5M266.2 14.20h-4.9" stroke="#8a8a8a" stroke-width="0.6" fill="none"/>
<text x="33.2" y="73.70" font-size="5.4" text-anchor="end" fill="#1a1a1a">0.0</text>
<text x="33.2" y="63.40" font-size="5.4" text-anchor="end" fill="#1a1a1a">0.2</text>
<text x="33.2" y="51.90" font-size="5.4" text-anchor="end" fill="#1a1a1a">0.4</text>
<text x="33.2" y="39.80" font-size="5.4" text-anchor="end" fill="#1a1a1a">0.6</text>
<text x="33.2" y="28.30" font-size="5.4" text-anchor="end" fill="#1a1a1a">0.8</text>
<text x="33.2" y="17.50" font-size="5.4" text-anchor="end" fill="#1a1a1a">1.0</text>
<text transform="translate(21.6,43.2) rotate(-90)" font-size="5.3" text-anchor="middle" fill="#2a2a2a" textLength="40.6" lengthAdjust="spacingAndGlyphs">Blue-sky albedo</text>
<text x="41.0" y="77.75" font-size="4.9" text-anchor="middle" fill="#222">Jan14</text>
<text x="64.0" y="77.75" font-size="4.9" text-anchor="middle" fill="#222">Jul14</text>
<text x="87.0" y="77.75" font-size="4.9" text-anchor="middle" fill="#222">Jan15</text>
<text x="110.0" y="77.75" font-size="4.9" text-anchor="middle" fill="#222">Jul15</text>
<text x="133.0" y="77.75" font-size="4.9" text-anchor="middle" fill="#222">Jan16</text>
<text x="156.0" y="77.75" font-size="4.9" text-anchor="middle" fill="#222">Jul16</text>
<text x="179.0" y="77.75" font-size="4.9" text-anchor="middle" fill="#222">Jan17</text>
<text x="202.0" y="77.75" font-size="4.9" text-anchor="middle" fill="#222">Jul17</text>
<text x="225.0" y="77.75" font-size="4.9" text-anchor="middle" fill="#222">Jan18</text>
<text x="248.0" y="77.75" font-size="4.9" text-anchor="middle" fill="#222">Jul18</text>
<text x="56.6" y="12.25" font-size="6.7" fill="#222" textLength="28.8" lengthAdjust="spacingAndGlyphs">[OZFLUX]</text>
<text x="88.0" y="12.25" font-size="6.7" fill="#222" textLength="28.8" lengthAdjust="spacingAndGlyphs">Calperum,</text>
<text x="120.3" y="12.25" font-size="6.7" fill="#222" textLength="26.2" lengthAdjust="spacingAndGlyphs">Australia.</text>
<text x="151.6" y="12.25" font-size="6.7" fill="#222" textLength="33.0" lengthAdjust="spacingAndGlyphs">Shrublands</text>
<text x="188.4" y="12.25" font-size="6.7" fill="#222" textLength="26.5" lengthAdjust="spacingAndGlyphs">(34.00S,</text>
<text x="217.7" y="12.25" font-size="6.7" fill="#222" textLength="26.5" lengthAdjust="spacingAndGlyphs">140.58E)</text>
<path d="M40.7 83.6h4" stroke="#c24ed8" stroke-width="0.7"/>
<text x="47.1" y="83.6" font-size="5.2" fill="#c24ed8" textLength="30" lengthAdjust="spacingAndGlyphs">PROBA-V V1</text>
<path d="M104.5 83.6h3" stroke="#2cb82c" stroke-width="0.7"/>
<text x="110.5" y="83.6" font-size="5.2" fill="#1fb81f" textLength="29.5" lengthAdjust="spacingAndGlyphs">MCD43A3 C6</text>
<circle cx="170.2" cy="83.0" r="0.8" fill="#333"/>
<text x="173.7" y="83.7" font-size="5.2" fill="#333" textLength="21" lengthAdjust="spacingAndGlyphs">GBOV RM</text>
</g>
<g transform="translate(269.3,164.2)">
<path d="M35.37 56.98V63.19M36.65 56.76V64.21M41.76 54.26V63.06M42.64 54.56V63.04M54.25 54.6V62.87M55.77 54.51V62.65M62.18 54.13V63.22M72.62 54.16V63.49M74.32 53.74V64M83.5 54.32V63.7M84.73 54.85V63.17M98.52 53.12V63.83M99.36 54.21V63.07M100.68 53.41V62.86M102.3 53.33V63.83M103.52 53.46V63.52M103.8 53.37V63.8M110.5 54.13V63.53M111.53 54.1V63.43M112.4 54.54V63.52M113.39 54.98V63.13M120.07 54.63V63.84M121.88 55.06V63.67M122.64 55.22V64.2M123.7 54.49V63.87M125.43 54.29V64.16M130.77 54.52V63.45M131.91 54.34V63.94M133.57 55.24V64.18M134.61 54.76V64.11M135.17 54.96V63.16M144.78 54.25V62.85M146.43 54.4V63.1M147.68 54.83V62.92M148.43 54.52V63.14M154.17 53.4V66.72M154.67 53.77V65.27M156.06 53.21V67.59M156.6 53.56V65.98M162.4 54.11V67.12M163.82 54.22V66.97M164.56 53.79V65.9M166.21 53.65V65.72M166.77 53.4V66M168.38 53.53V66.09M169.64 53.98V66.03M171.22 54.6V67.29M171.88 54.1V66.19M180.22 52.92V66.12M181.14 54.68V66.5M181.84 53.6V66.15M183.5 52.99V66.23M184.12 53.18V65.87M186.04 53.11V65.97M186.96 52.96V65.96M188.53 53.46V65.72M188.93 53.04V65.69M190.34 54.39V66.01M191.36 53.22V65.54M198.83 53.36V65.44M200.5 53.81V65.39M201.47 53.18V67.14M202.47 53.38V67.21M204.06 53.13V67.22M205 53.35V66.42M206.03 53.25V67.3M207.02 52.98V65.42M208.63 54.41V66.34M210.01 53.83V66.42M211.14 53.47V66.98M216.59 53.74V65.89M218.47 54.68V66.8M219.21 54.67V66.67M220.57 54.65V67.21M221.73 53.54V66.54M230.45 53.49V65.7M231.13 52.85V66.03M232.92 53.14V65.51M233.83 52.81V66.46M234.38 52.81V66.46M235.74 53.07V65.99M237.53 53.09V66.97M238.38 52.93V66.33M239.29 52.51V67.32M244.72 53.44V64.94M245.93 53.09V66.73M247.15 53.74V66.55M248.51 53.15V66.96M250.01 53.55V66.59M251.22 53.79V66.51M258.08 54.54V66.78M259.65 54.37V65.87M260.9 54.4V65.85M261.49 55.05V67.02M263.28 54.88V66.3M263.83 54.25V65.99" stroke="#f2b8d0" stroke-width="0.8" fill="none" opacity="0.65"/>
<path d="M199.97 61.8h0.6M194.18 56.24h0.6M118.7 63.63h0.6M179.27 61.47h0.6M177.66 59.12h0.6M78.45 59.1h0.6M243.06 63.67h0.6M168.55 61.29h0.6M192.08 61.01h0.6M229.97 63.77h0.6M240.67 58.33h0.6M195.15 59h0.6M229.22 60.02h0.6M223.08 61.37h0.6M46.91 58.77h0.6M70.06 60.41h0.6M73.45 58.21h0.6M182.17 56.14h0.6M84.43 57.35h0.6M161.34 56.98h0.6M116 59.14h0.6M183.39 59.32h0.6M172.06 54.97h0.6M152.64 57.43h0.6M263.87 57.7h0.6M82.64 61.44h0.6M45.26 58.08h0.6M216.67 55.3h0.6M79.39 54.78h0.6M105.38 55.38h0.6M125.98 55.15h0.6M178.71 54.22h0.6M207.68 60.14h0.6M49.36 61.31h0.6M61.74 54.94h0.6M202.45 56.17h0.6M175.62 51.32h0.6M44.24 56.57h0.6M225.63 60.69h0.6M150.27 56.09h0.6" stroke="#777" stroke-width="0.5" fill="none" opacity="0.7"/>
<path d="M35 62.23 L36.1 62.52 L37.2 62.79 L38.3 61.64 L39.4 62.5 L40.5 61.28 L41.6 62.41 L42.7 61.89 L43.8 62.31 L44.9 62.49 L46 62.44 L47.1 62.45 L48.2 62.61 L49.3 61.43 L50.4 61.29 L51.5 60.76 L52.6 61.1 L53.7 61.34 L54.8 61.25 L55.9 60.89 L57 60.57 L58.1 60.57 L59.2 60.71 L60 61.18 L60.3 61.14 L61.4 61.38 L62.5 61.75 L63.6 61.98 L64.7 62.51 L65.8 61.6 L66.9 61.51 L68 60.83 L69.1 60.63 L70.2 61.52 L71.3 62.47 L72.4 63.07 L73.5 62.55 L74.6 61.6 L75.7 61.41 L76.8 61.42 L77.9 61.97 L79 62.02 L80.1 62.23 L81.2 61.66 L82.3 62.6 L83.4 61.8 L84.5 61.44 L85.6 62.38 L86.7 62.25 L87.8 61.9 L88.9 61.73 L90 61.3 L90 61.44 L91.1 61.65 L92.2 61.4 L93.3 60.53 L94.4 60.95 L95.5 60.83 L96.6 60.2 L97.7 61.2 L98.8 61.59 L99.9 61.56 L101 62.49 L102.1 63.05 L103.2 62.25 L104.3 62.23 L105.4 61.59 L106.5 61.61 L107.6 62.33 L108.7 61.04 L109.8 60.86 L110 61.17 L110.9 62.25 L112 62.23 L113.1 61.78 L114.2 61.1 L115.3 60.86 L116.4 62.2 L117.5 62.29 L118.6 62.93 L119.7 62.97 L120.8 63.04 L121.9 62.66 L123 63.96 L123.4 63.89 L124 61.08 L124.1 61.25 L124.6 63.73 L125.2 64.28 L126 63.08 L126.3 62.86 L127.4 62.22 L128.5 63.45 L129.6 63.06 L130.7 62.6 L131.8 61.6 L132.9 61.67 L134 61.85 L135.1 61.51 L136.2 61.45 L137.3 61.31 L138.4 62.23 L139.5 62.22 L140.6 61.51 L141.7 61.73 L142.8 60.75 L143.9 60.66 L145 61.1 L146.1 60.95 L147.2 61.23 L148.3 61.71 L149.4 61.8 L150 62.23 L150.5 62.28 L151.6 62.15 L152.7 61.66 L153.8 61.65 L154.9 61.26 L156 61.06 L157.1 61.59 L158.2 61.76 L159.3 61.84 L160.4 61.09 L161.5 61.57 L162.6 61.97 L163.7 61.62 L164.8 61.03 L165.9 62.51 L167 62.55 L168.1 62.8 L169.2 62.38 L170.3 62.15 L171.4 62.47 L172.5 63.11 L173.6 62.32 L174.4 62.04 L174.7 62.11 L175.8 63.64 L176.7 64.61 L176.9 63.59 L178 62.26 L178 62.34 L179.1 62.64 L180.2 62.48 L181.3 62.69 L182.4 62.72 L183.5 62.96 L184.6 62.34 L185.7 61.65 L186.8 61.42 L187.9 61.92 L189 62.07 L190.1 61.42 L191.2 61.55 L192.3 60.9 L193.4 61.16 L194.5 61.41 L195.6 61.55 L196.7 62.59 L197.8 62.25 L198.9 61.06 L200 61.11 L200 60.82 L201.1 61.18 L202.2 61.89 L203.3 61.97 L204.4 62.18 L205.5 62.12 L206.6 62.52 L207.7 63.8 L208.8 63.33 L209.9 63.77 L211 62.46 L212.1 62.47 L213.2 62.6 L214.3 63.2 L215.4 62.63 L216.5 62.72 L217.6 62.27 L218.7 61.8 L219.8 61.67 L220.9 60.95 L222 61.54 L223.1 61.49 L224.2 62.56 L225.3 63.38 L226.4 62.73 L227.5 62.57 L228.6 62.72 L229.7 62.8 L230 62.7 L230.8 63.27 L231.9 62.6 L233 61.29 L234.1 60.88 L235.2 61.27 L236.3 60.75 L237.4 61.59 L238.5 61.23 L239.6 61.36 L240.7 61.11 L241.8 61.3 L242.9 61.11 L244 60.49 L245.1 61.52 L246.2 61.35 L247.3 62.37 L248.4 62.47 L249.5 62.72 L250.6 62.25 L251.7 62.53 L252.8 62.29 L253.9 61.29 L255 61.84 L256.1 61.95 L257.2 62.8 L258.3 62.36 L259.4 63.12 L260.5 62.6 L261.6 62.65 L262.7 62.17 L263.8 62.09 L264.9 62.64 L265 63.11" stroke="#28a828" stroke-width="1.1" fill="none" stroke-linejoin="round"/>
<path d="M35 59.33 L36.1 58.77 L37.2 59.1 L38.3 58.52 L39.4 59.35 L40.5 59.42 L41.6 58.91 L42.7 59.24 L43.8 59.04 L44.9 59.02 L45 59.13 L46 58.19 L47.1 57.56 L48.2 57.8 L49.3 57.81 L50.4 57.8 L51.5 57.7 L52.6 57.12 L53.7 57.7 L54.8 57.84 L55 57.63 L55.9 57.29 L57 57.92 L58.1 58.25 L59.2 58.64 L60 58.31 L60.3 58.12 L61.4 58.34 L62.5 58.93 L63.6 58.33 L64.7 58.62 L65.8 58.2 L66.9 57.47 L67.7 57.03 L68 57.73 L69.1 57.81 L70.2 58.58 L71.2 58.1 L71.3 58.33 L72.4 58.41 L73.5 58.43 L74.6 57.46 L75.7 57.8 L76.8 58.33 L77.9 58.35 L78 57.67 L79 58.88 L80.1 58.67 L81.2 59.11 L82 59.57 L82.3 60.37 L83.4 59.84 L84.5 60.52 L85.6 60.42 L86.7 61.57 L87.8 61.51 L88.9 60.76 L90 61.3 L90 61.14 L91.1 60.18 L92.2 59.98 L93.3 60.08 L94.4 59.44 L95.5 59.13 L96.6 58.16 L97.7 57.98 L98 58.72 L98.8 58.41 L99.9 58.47 L101 58.57 L102.1 59.21 L103.2 59.05 L104.3 59.02 L105.4 58.98 L106.5 58.76 L107.6 58.43 L108.7 58.64 L109.8 58.44 L110.9 58.59 L112 58.27 L113.1 58.36 L114 58.31 L114.2 58.65 L115.3 59.66 L116.4 60.1 L117.5 60.41 L118.6 59.84 L119.7 60.28 L120 60.17 L120.8 59.84 L121.9 59.95 L123 60.27 L124.1 59.82 L125.2 58.51 L126.3 59.51 L127.4 58.95 L128.5 60.27 L129.6 60.27 L130.7 59.72 L131.8 60.19 L132 59.1 L132.9 60.05 L134 59.05 L135.1 59.02 L136.2 58.06 L137.3 57.55 L138.4 57.51 L139.5 57.88 L140 58.76 L140.6 58.5 L141.7 57.96 L142.8 57.99 L143.9 58.86 L145 58.69 L146.1 57.97 L147.2 57.31 L148.3 56.52 L148.7 56.07 L149.4 56.49 L150.5 56.19 L151.6 57.06 L152.7 56.92 L153.8 57.38 L154.9 56.9 L156 57.43 L157.1 57.68 L158 57.66 L158.2 58 L159.3 58.46 L160.4 59.12 L161.5 59.62 L162 59.35 L162.6 58.52 L163.7 58.89 L164.8 59 L165.9 59.54 L167 59.42 L167 59.31 L168.1 59.82 L169.2 59.75 L170.3 59.77 L171.4 60.37 L172.5 60.23 L173.6 60.14 L174.7 60.25 L175.8 60.71 L176.9 61.75 L178 60.96 L179.1 61.07 L180.2 60.37 L181.3 60.43 L182.4 60.06 L183.5 60.39 L184.6 59.99 L185 59.65 L185.7 59.46 L186.8 59.9 L187.9 59.1 L189 59.04 L190 58.16 L190.1 59 L191.2 58.86 L192.3 57.96 L193.4 57.94 L194.5 58.31 L195.6 57.05 L196 56.91 L196.7 57.32 L197.8 57.16 L198.9 56.47 L200 56.87 L201.1 56.14 L202.2 56.12 L203 56.12 L203.3 54.96 L204.4 55.98 L205.5 57.1 L206 57.95 L206.6 58.97 L207.7 60.11 L208.8 60.24 L209.9 60.47 L210 60.55 L211 60.07 L212.1 60.16 L213.2 59.53 L214.3 60.27 L215.4 60.01 L216.5 59.84 L217.6 60.51 L218.7 59.74 L219.8 61.01 L220.9 60.77 L222 60.46 L223.1 59.94 L224.2 59.82 L225.3 60.17 L226.4 60.69 L227 59.57 L227.5 59.36 L228.6 58.49 L229.7 58.65 L230 58 L230.8 57.75 L231.9 56.99 L233 56.31 L234.1 56.86 L235.2 56.04 L236 55.48 L236.3 55.84 L237.4 55.95 L238.5 56.33 L239.6 56.74 L240 56.09 L240.7 55.12 L241.8 55.24 L242.9 54.75 L244 55.3 L245.1 55.91 L246.2 56.7 L247.3 55.56 L248.4 55.47 L249 56.74 L249.5 56.71 L250.6 57.84 L251.7 58.79 L252 59.57 L252.8 59.34 L253.9 60.02 L255 59.57 L256.1 59.16 L257.2 59.39 L258.3 59.95 L259.4 60.07 L260.5 60.13 L261.6 59.37 L262.7 59.17 L263.8 59.24 L264.9 59.59 L265 60.15" stroke="#c24ed8" stroke-width="1.0" fill="none" stroke-linejoin="round"/>
<path d="M35 60.7 L36.1 60.9 L37.2 61.67 L38.3 62.1 L39.4 61.82 L40.5 61.36 L41.6 61.23 L42.7 60.7 L43.8 60.52 L44.9 60.14 L46 60.5 L47.1 59.97 L48.2 60.52 L49.3 60.88 L50.4 61.81 L51.5 61.32 L52.6 61.18 L53.7 60.89 L54.8 61.27 L55.9 60.78 L57 61.41 L58.1 61.86 L59.2 61.31 L60.3 61.1 L61.4 61.29 L62.5 61.98 L63.6 61.59 L64.7 61.29 L65.8 61.37 L66.9 60.66 L68 60.82 L69.1 60.81 L70.2 61.42 L71.3 61.28 L72.4 61.17 L73.5 62.1 L74.6 61.95 L75.7 62.01 L76.8 62.67 L77.9 61.36 L79 61.03 L80.1 61.47 L81.2 61.42 L82.3 61.35 L83.4 61.08 L84.5 62.02 L85.6 61.34 L86.7 62.05 L87.8 61.95 L88.9 62.3 L90 61.95 L91.1 62.14 L92.2 61.64 L93.3 60.99 L94.4 60.95 L95.5 61.32 L96.6 61.07 L97.7 60.51 L98.8 60.52 L99.9 60.6 L100 60.87 L101 61.07 L102.1 60.63 L103.2 61.05 L104.3 61.09 L105.4 61.01 L106.5 60.88 L107.6 61.75 L108.7 61.79 L109.8 62.34 L110.9 61.4 L112 61.07 L113.1 61.49 L114.2 61.67 L115.3 60.94 L116.4 61.58 L117.5 60.88 L118.6 61.44 L119.7 61.52 L120.8 62.45 L121.9 61.96 L123 61.03 L124.1 60.39 L125.2 60.42 L126.3 60.9 L127.4 60.62 L128.5 60.89 L129.6 61.79 L130.7 61.86 L131.8 62.15 L132.9 62.45 L134 62.23 L135.1 62.12 L136.2 61.27 L137.3 60.98 L138.4 60.92 L139.5 61.36 L140.6 61.51 L141.7 61.72 L142.8 62.07 L143.9 62.57 L145 62.09 L146.1 62.63 L147.2 61.02 L148.3 60.25 L149.4 60.03 L150 60.85 L150.5 60.49 L151.6 61.16 L152.7 61.11 L153.8 60.55 L154.9 60.47 L156 60.11 L157.1 60.81 L158.2 61.36 L159.3 61.36 L160.4 60.81 L161.5 60.87 L162.6 60.9 L163.7 61.13 L164.8 61.41 L165.9 60.77 L167 59.67 L168.1 59.92 L169.2 59.58 L170.3 59.94 L171.4 61.11 L172.5 61.22 L173.6 61.69 L174.7 61.29 L175.8 61.1 L176.9 60.92 L178 60.46 L179.1 60.85 L180.2 60.76 L181.3 61.33 L182.4 60.8 L183.5 60.84 L184.6 61.29 L185.7 62.15 L186.8 62.25 L187.9 62.99 L189 62.22 L190.1 63.01 L191.2 63.2 L192.3 63.15 L193.4 63.18 L194.5 62.7 L195.6 61.79 L196.7 60.84 L197.8 59.46 L198.9 59.92 L200 59.69 L200 60.85 L201.1 61.61 L202.2 61.5 L203.3 61.92 L204.4 62.35 L205.5 61.91 L206.6 61.16 L207.7 61.8 L208.8 61.87 L209.9 61.18 L211 61.33 L212.1 61.48 L213.2 61.22 L214.3 61.73 L215.4 62.1 L216.5 61.83 L217.6 61.99 L218.7 60.89 L219.8 60.52 L220.9 61.45 L222 62.12 L223.1 62.53 L224.2 61.96 L225.3 61.54 L226.4 60.59 L227.5 60.21 L228.6 60.87 L229.7 60.63 L230.8 60.83 L231.9 61.25 L233 62 L234.1 60.95 L235.2 61.26 L236.3 60.63 L237.4 61.71 L238.5 61.23 L239.6 61.59 L240.7 61.47 L241.8 61.36 L242.9 61.28 L244 60.86 L245.1 60.94 L246.2 60.69 L247.3 61 L248.4 60.51 L249.5 60.62 L250.6 61.26 L251.7 60.95 L252.8 60.88 L253.9 61.62 L255 61.32 L256.1 60.15 L257.2 60.65 L258.3 60.49 L259.4 60.88 L260.5 61.14 L261.6 62.69 L262.7 62.89 L263.8 62.21 L264.9 61.02 L265 60.58" stroke="#666" stroke-width="0.7" fill="none" stroke-linejoin="round"/>
<line x1="34.9" y1="73.3" x2="265.5" y2="73.3" stroke="#888" stroke-width="0.9"/>
<path d="M35.0 73.3v-1.6M46.5 73.3v-1.6M58.0 73.3v-1.6M69.5 73.3v-1.6M81.0 73.3v-1.6M92.5 73.3v-1.6M104.0 73.3v-1.6M115.5 73.3v-1.6M127.0 73.3v-1.6M138.5 73.3v-1.6M150.0 73.3v-1.6M161.5 73.3v-1.6M173.0 73.3v-1.6M184.5 73.3v-1.6M196.0 73.3v-1.6M207.5 73.3v-1.6M219.0 73.3v-1.6M230.5 73.3v-1.6M242.0 73.3v-1.6M253.5 73.3v-1.6M265.0 73.3v-1.6" stroke="#999" stroke-width="0.5" fill="none"/>
<path d="M34.9 73.30h4.5M266.2 73.30h-4.9M34.9 70.34h2.0M266.2 70.34h-2.4M34.9 67.39h2.0M266.2 67.39h-2.4M34.9 64.44h2.0M266.2 64.44h-2.4M34.9 61.48h4.5M266.2 61.48h-4.9M34.9 58.52h2.0M266.2 58.52h-2.4M34.9 55.57h2.0M266.2 55.57h-2.4M34.9 52.61h2.0M266.2 52.61h-2.4M34.9 49.66h4.5M266.2 49.66h-4.9M34.9 46.70h2.0M266.2 46.70h-2.4M34.9 43.75h2.0M266.2 43.75h-2.4M34.9 40.79h2.0M266.2 40.79h-2.4M34.9 37.84h4.5M266.2 37.84h-4.9M34.9 34.88h2.0M266.2 34.88h-2.4M34.9 31.93h2.0M266.2 31.93h-2.4M34.9 28.97h2.0M266.2 28.97h-2.4M34.9 26.02h4.5M266.2 26.02h-4.9M34.9 23.06h2.0M266.2 23.06h-2.4M34.9 20.11h2.0M266.2 20.11h-2.4M34.9 17.15h2.0M266.2 17.15h-2.4M34.9 14.20h4.5M266.2 14.20h-4.9" stroke="#8a8a8a" stroke-width="0.6" fill="none"/>
<text x="33.2" y="73.70" font-size="5.4" text-anchor="end" fill="#1a1a1a">0.0</text>
<text x="33.2" y="63.40" font-size="5.4" text-anchor="end" fill="#1a1a1a">0.2</text>
<text x="33.2" y="51.90" font-size="5.4" text-anchor="end" fill="#1a1a1a">0.4</text>
<text x="33.2" y="39.80" font-size="5.4" text-anchor="end" fill="#1a1a1a">0.6</text>
<text x="33.2" y="28.30" font-size="5.4" text-anchor="end" fill="#1a1a1a">0.8</text>
<text x="33.2" y="17.50" font-size="5.4" text-anchor="end" fill="#1a1a1a">1.0</text>
<text transform="translate(21.6,43.2) rotate(-90)" font-size="5.3" text-anchor="middle" fill="#2a2a2a" textLength="40.6" lengthAdjust="spacingAndGlyphs">Blue-sky albedo</text>
<text x="41.0" y="77.75" font-size="4.9" text-anchor="middle" fill="#222">Jan14</text>
<text x="64.0" y="77.75" font-size="4.9" text-anchor="middle" fill="#222">Jul14</text>
<text x="87.0" y="77.75" font-size="4.9" text-anchor="middle" fill="#222">Jan15</text>
<text x="110.0" y="77.75" font-size="4.9" text-anchor="middle" fill="#222">Jul15</text>
<text x="133.0" y="77.75" font-size="4.9" text-anchor="middle" fill="#222">Jan16</text>
<text x="156.0" y="77.75" font-size="4.9" text-anchor="middle" fill="#222">Jul16</text>
<text x="179.0" y="77.75" font-size="4.9" text-anchor="middle" fill="#222">Jan17</text>
<text x="202.0" y="77.75" font-size="4.9" text-anchor="middle" fill="#222">Jul17</text>
<text x="225.0" y="77.75" font-size="4.9" text-anchor="middle" fill="#222">Jan18</text>
<text x="248.0" y="77.75" font-size="4.9" text-anchor="middle" fill="#222">Jul18</text>
<text x="46.5" y="12.25" font-size="6.7" fill="#222" textLength="32.1" lengthAdjust="spacingAndGlyphs">[SURFRAD]</text>
<text x="82.4" y="12.25" font-size="6.7" fill="#222" textLength="35.0" lengthAdjust="spacingAndGlyphs">DesertRock,</text>
<text x="121.2" y="12.25" font-size="6.7" fill="#222" textLength="13.2" lengthAdjust="spacingAndGlyphs">USA.</text>
<text x="137.6" y="12.25" font-size="6.7" fill="#222" textLength="13.6" lengthAdjust="spacingAndGlyphs">Bare</text>
<text x="154.3" y="12.25" font-size="6.7" fill="#222" textLength="8.7" lengthAdjust="spacingAndGlyphs">soil</text>
<text x="166.1" y="12.25" font-size="6.7" fill="#222" textLength="6.2" lengthAdjust="spacingAndGlyphs">&amp;</text>
<text x="175.3" y="12.25" font-size="6.7" fill="#222" textLength="16.7" lengthAdjust="spacingAndGlyphs">Rocks</text>
<text x="195.6" y="12.25" font-size="6.7" fill="#222" textLength="25.4" lengthAdjust="spacingAndGlyphs">(36.62N,</text>
<text x="225.3" y="12.25" font-size="6.7" fill="#222" textLength="27.8" lengthAdjust="spacingAndGlyphs">116.01W)</text>
<path d="M40.7 83.6h4" stroke="#c24ed8" stroke-width="0.7"/>
<text x="47.1" y="83.6" font-size="5.2" fill="#c24ed8" textLength="30" lengthAdjust="spacingAndGlyphs">PROBA-V V1</text>
<path d="M104.5 83.6h3" stroke="#2cb82c" stroke-width="0.7"/>
<text x="110.5" y="83.6" font-size="5.2" fill="#1fb81f" textLength="29.5" lengthAdjust="spacingAndGlyphs">MCD43A3 C6</text>
<circle cx="170.2" cy="83.0" r="0.8" fill="#333"/>
<text x="173.7" y="83.7" font-size="5.2" fill="#333" textLength="21" lengthAdjust="spacingAndGlyphs">GBOV RM</text>
</g>
</svg></body></html>
